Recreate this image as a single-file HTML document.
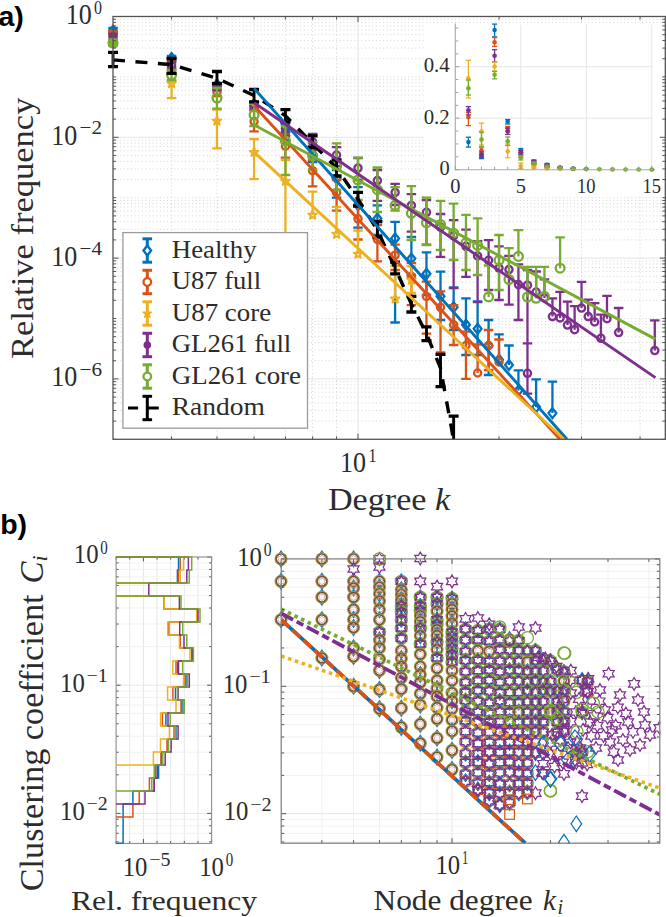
<!DOCTYPE html>
<html><head><meta charset="utf-8"><style>html,body{margin:0;padding:0;background:#fff;overflow:hidden}svg{display:block;}text{fill:#2c2c2c}text.lab{fill:#000}</style></head>
<body><svg width="666" height="917" viewBox="0 0 666 917">
<rect width="666" height="917" fill="#fff"/>
<line x1="113" y1="58.72" x2="665.3" y2="58.72" stroke="#cfcfcf" stroke-width="0.9" stroke-dasharray="1 2.6"/>
<line x1="113" y1="48.08" x2="665.3" y2="48.08" stroke="#cfcfcf" stroke-width="0.9" stroke-dasharray="1 2.6"/>
<line x1="113" y1="40.54" x2="665.3" y2="40.54" stroke="#cfcfcf" stroke-width="0.9" stroke-dasharray="1 2.6"/>
<line x1="113" y1="34.68" x2="665.3" y2="34.68" stroke="#cfcfcf" stroke-width="0.9" stroke-dasharray="1 2.6"/>
<line x1="113" y1="29.9" x2="665.3" y2="29.9" stroke="#cfcfcf" stroke-width="0.9" stroke-dasharray="1 2.6"/>
<line x1="113" y1="25.86" x2="665.3" y2="25.86" stroke="#cfcfcf" stroke-width="0.9" stroke-dasharray="1 2.6"/>
<line x1="113" y1="22.35" x2="665.3" y2="22.35" stroke="#cfcfcf" stroke-width="0.9" stroke-dasharray="1 2.6"/>
<line x1="113" y1="19.26" x2="665.3" y2="19.26" stroke="#cfcfcf" stroke-width="0.9" stroke-dasharray="1 2.6"/>
<line x1="113" y1="76.9" x2="665.3" y2="76.9" stroke="#cfcfcf" stroke-width="0.9" stroke-dasharray="1 2.6"/>
<line x1="113" y1="119.12" x2="665.3" y2="119.12" stroke="#cfcfcf" stroke-width="0.9" stroke-dasharray="1 2.6"/>
<line x1="113" y1="108.48" x2="665.3" y2="108.48" stroke="#cfcfcf" stroke-width="0.9" stroke-dasharray="1 2.6"/>
<line x1="113" y1="100.94" x2="665.3" y2="100.94" stroke="#cfcfcf" stroke-width="0.9" stroke-dasharray="1 2.6"/>
<line x1="113" y1="95.08" x2="665.3" y2="95.08" stroke="#cfcfcf" stroke-width="0.9" stroke-dasharray="1 2.6"/>
<line x1="113" y1="90.3" x2="665.3" y2="90.3" stroke="#cfcfcf" stroke-width="0.9" stroke-dasharray="1 2.6"/>
<line x1="113" y1="86.26" x2="665.3" y2="86.26" stroke="#cfcfcf" stroke-width="0.9" stroke-dasharray="1 2.6"/>
<line x1="113" y1="82.75" x2="665.3" y2="82.75" stroke="#cfcfcf" stroke-width="0.9" stroke-dasharray="1 2.6"/>
<line x1="113" y1="79.66" x2="665.3" y2="79.66" stroke="#cfcfcf" stroke-width="0.9" stroke-dasharray="1 2.6"/>
<line x1="113" y1="179.52" x2="665.3" y2="179.52" stroke="#cfcfcf" stroke-width="0.9" stroke-dasharray="1 2.6"/>
<line x1="113" y1="168.88" x2="665.3" y2="168.88" stroke="#cfcfcf" stroke-width="0.9" stroke-dasharray="1 2.6"/>
<line x1="113" y1="161.34" x2="665.3" y2="161.34" stroke="#cfcfcf" stroke-width="0.9" stroke-dasharray="1 2.6"/>
<line x1="113" y1="155.48" x2="665.3" y2="155.48" stroke="#cfcfcf" stroke-width="0.9" stroke-dasharray="1 2.6"/>
<line x1="113" y1="150.7" x2="665.3" y2="150.7" stroke="#cfcfcf" stroke-width="0.9" stroke-dasharray="1 2.6"/>
<line x1="113" y1="146.66" x2="665.3" y2="146.66" stroke="#cfcfcf" stroke-width="0.9" stroke-dasharray="1 2.6"/>
<line x1="113" y1="143.15" x2="665.3" y2="143.15" stroke="#cfcfcf" stroke-width="0.9" stroke-dasharray="1 2.6"/>
<line x1="113" y1="140.06" x2="665.3" y2="140.06" stroke="#cfcfcf" stroke-width="0.9" stroke-dasharray="1 2.6"/>
<line x1="113" y1="197.7" x2="665.3" y2="197.7" stroke="#cfcfcf" stroke-width="0.9" stroke-dasharray="1 2.6"/>
<line x1="113" y1="239.92" x2="665.3" y2="239.92" stroke="#cfcfcf" stroke-width="0.9" stroke-dasharray="1 2.6"/>
<line x1="113" y1="229.28" x2="665.3" y2="229.28" stroke="#cfcfcf" stroke-width="0.9" stroke-dasharray="1 2.6"/>
<line x1="113" y1="221.74" x2="665.3" y2="221.74" stroke="#cfcfcf" stroke-width="0.9" stroke-dasharray="1 2.6"/>
<line x1="113" y1="215.88" x2="665.3" y2="215.88" stroke="#cfcfcf" stroke-width="0.9" stroke-dasharray="1 2.6"/>
<line x1="113" y1="211.1" x2="665.3" y2="211.1" stroke="#cfcfcf" stroke-width="0.9" stroke-dasharray="1 2.6"/>
<line x1="113" y1="207.06" x2="665.3" y2="207.06" stroke="#cfcfcf" stroke-width="0.9" stroke-dasharray="1 2.6"/>
<line x1="113" y1="203.55" x2="665.3" y2="203.55" stroke="#cfcfcf" stroke-width="0.9" stroke-dasharray="1 2.6"/>
<line x1="113" y1="200.46" x2="665.3" y2="200.46" stroke="#cfcfcf" stroke-width="0.9" stroke-dasharray="1 2.6"/>
<line x1="113" y1="300.32" x2="665.3" y2="300.32" stroke="#cfcfcf" stroke-width="0.9" stroke-dasharray="1 2.6"/>
<line x1="113" y1="289.68" x2="665.3" y2="289.68" stroke="#cfcfcf" stroke-width="0.9" stroke-dasharray="1 2.6"/>
<line x1="113" y1="282.14" x2="665.3" y2="282.14" stroke="#cfcfcf" stroke-width="0.9" stroke-dasharray="1 2.6"/>
<line x1="113" y1="276.28" x2="665.3" y2="276.28" stroke="#cfcfcf" stroke-width="0.9" stroke-dasharray="1 2.6"/>
<line x1="113" y1="271.5" x2="665.3" y2="271.5" stroke="#cfcfcf" stroke-width="0.9" stroke-dasharray="1 2.6"/>
<line x1="113" y1="267.46" x2="665.3" y2="267.46" stroke="#cfcfcf" stroke-width="0.9" stroke-dasharray="1 2.6"/>
<line x1="113" y1="263.95" x2="665.3" y2="263.95" stroke="#cfcfcf" stroke-width="0.9" stroke-dasharray="1 2.6"/>
<line x1="113" y1="260.86" x2="665.3" y2="260.86" stroke="#cfcfcf" stroke-width="0.9" stroke-dasharray="1 2.6"/>
<line x1="113" y1="318.5" x2="665.3" y2="318.5" stroke="#cfcfcf" stroke-width="0.9" stroke-dasharray="1 2.6"/>
<line x1="113" y1="360.72" x2="665.3" y2="360.72" stroke="#cfcfcf" stroke-width="0.9" stroke-dasharray="1 2.6"/>
<line x1="113" y1="350.08" x2="665.3" y2="350.08" stroke="#cfcfcf" stroke-width="0.9" stroke-dasharray="1 2.6"/>
<line x1="113" y1="342.54" x2="665.3" y2="342.54" stroke="#cfcfcf" stroke-width="0.9" stroke-dasharray="1 2.6"/>
<line x1="113" y1="336.68" x2="665.3" y2="336.68" stroke="#cfcfcf" stroke-width="0.9" stroke-dasharray="1 2.6"/>
<line x1="113" y1="331.9" x2="665.3" y2="331.9" stroke="#cfcfcf" stroke-width="0.9" stroke-dasharray="1 2.6"/>
<line x1="113" y1="327.86" x2="665.3" y2="327.86" stroke="#cfcfcf" stroke-width="0.9" stroke-dasharray="1 2.6"/>
<line x1="113" y1="324.35" x2="665.3" y2="324.35" stroke="#cfcfcf" stroke-width="0.9" stroke-dasharray="1 2.6"/>
<line x1="113" y1="321.26" x2="665.3" y2="321.26" stroke="#cfcfcf" stroke-width="0.9" stroke-dasharray="1 2.6"/>
<line x1="113" y1="421.12" x2="665.3" y2="421.12" stroke="#cfcfcf" stroke-width="0.9" stroke-dasharray="1 2.6"/>
<line x1="113" y1="410.48" x2="665.3" y2="410.48" stroke="#cfcfcf" stroke-width="0.9" stroke-dasharray="1 2.6"/>
<line x1="113" y1="402.94" x2="665.3" y2="402.94" stroke="#cfcfcf" stroke-width="0.9" stroke-dasharray="1 2.6"/>
<line x1="113" y1="397.08" x2="665.3" y2="397.08" stroke="#cfcfcf" stroke-width="0.9" stroke-dasharray="1 2.6"/>
<line x1="113" y1="392.3" x2="665.3" y2="392.3" stroke="#cfcfcf" stroke-width="0.9" stroke-dasharray="1 2.6"/>
<line x1="113" y1="388.26" x2="665.3" y2="388.26" stroke="#cfcfcf" stroke-width="0.9" stroke-dasharray="1 2.6"/>
<line x1="113" y1="384.75" x2="665.3" y2="384.75" stroke="#cfcfcf" stroke-width="0.9" stroke-dasharray="1 2.6"/>
<line x1="113" y1="381.66" x2="665.3" y2="381.66" stroke="#cfcfcf" stroke-width="0.9" stroke-dasharray="1 2.6"/>
<line x1="113" y1="137.3" x2="665.3" y2="137.3" stroke="#e3e3e3" stroke-width="1"/>
<line x1="113" y1="258.1" x2="665.3" y2="258.1" stroke="#e3e3e3" stroke-width="1"/>
<line x1="113" y1="378.9" x2="665.3" y2="378.9" stroke="#e3e3e3" stroke-width="1"/>
<line x1="171.57" y1="16.5" x2="171.57" y2="439.3" stroke="#cfcfcf" stroke-width="0.9" stroke-dasharray="1 2.6"/>
<line x1="216.97" y1="16.5" x2="216.97" y2="439.3" stroke="#cfcfcf" stroke-width="0.9" stroke-dasharray="1 2.6"/>
<line x1="254.06" y1="16.5" x2="254.06" y2="439.3" stroke="#cfcfcf" stroke-width="0.9" stroke-dasharray="1 2.6"/>
<line x1="285.43" y1="16.5" x2="285.43" y2="439.3" stroke="#cfcfcf" stroke-width="0.9" stroke-dasharray="1 2.6"/>
<line x1="312.6" y1="16.5" x2="312.6" y2="439.3" stroke="#cfcfcf" stroke-width="0.9" stroke-dasharray="1 2.6"/>
<line x1="336.56" y1="16.5" x2="336.56" y2="439.3" stroke="#cfcfcf" stroke-width="0.9" stroke-dasharray="1 2.6"/>
<line x1="499.03" y1="16.5" x2="499.03" y2="439.3" stroke="#cfcfcf" stroke-width="0.9" stroke-dasharray="1 2.6"/>
<line x1="581.53" y1="16.5" x2="581.53" y2="439.3" stroke="#cfcfcf" stroke-width="0.9" stroke-dasharray="1 2.6"/>
<line x1="640.07" y1="16.5" x2="640.07" y2="439.3" stroke="#cfcfcf" stroke-width="0.9" stroke-dasharray="1 2.6"/>
<line x1="358" y1="16.5" x2="358" y2="439.3" stroke="#e3e3e3" stroke-width="1"/>
<defs><clipPath id="ca"><rect x="107" y="10.5" width="564.3" height="428.8"/></clipPath></defs>
<g clip-path="url(#ca)">
<line x1="113.03" y1="28" x2="113.03" y2="33" stroke="#0072BD" stroke-width="2.3"/>
<line x1="108.28" y1="28" x2="117.78" y2="28" stroke="#0072BD" stroke-width="2.3"/>
<line x1="108.28" y1="33" x2="117.78" y2="33" stroke="#0072BD" stroke-width="2.3"/>
<line x1="171.57" y1="56" x2="171.57" y2="61" stroke="#0072BD" stroke-width="2.3"/>
<line x1="166.82" y1="56" x2="176.32" y2="56" stroke="#0072BD" stroke-width="2.3"/>
<line x1="166.82" y1="61" x2="176.32" y2="61" stroke="#0072BD" stroke-width="2.3"/>
<line x1="216.97" y1="83" x2="216.97" y2="87" stroke="#0072BD" stroke-width="2.3"/>
<line x1="212.22" y1="83" x2="221.72" y2="83" stroke="#0072BD" stroke-width="2.3"/>
<line x1="212.22" y1="87" x2="221.72" y2="87" stroke="#0072BD" stroke-width="2.3"/>
<line x1="254.06" y1="103" x2="254.06" y2="110" stroke="#0072BD" stroke-width="2.3"/>
<line x1="249.31" y1="103" x2="258.81" y2="103" stroke="#0072BD" stroke-width="2.3"/>
<line x1="249.31" y1="110" x2="258.81" y2="110" stroke="#0072BD" stroke-width="2.3"/>
<line x1="285.43" y1="124" x2="285.43" y2="140" stroke="#0072BD" stroke-width="2.3"/>
<line x1="280.68" y1="124" x2="290.18" y2="124" stroke="#0072BD" stroke-width="2.3"/>
<line x1="280.68" y1="140" x2="290.18" y2="140" stroke="#0072BD" stroke-width="2.3"/>
<line x1="312.6" y1="146" x2="312.6" y2="162" stroke="#0072BD" stroke-width="2.3"/>
<line x1="307.85" y1="146" x2="317.35" y2="146" stroke="#0072BD" stroke-width="2.3"/>
<line x1="307.85" y1="162" x2="317.35" y2="162" stroke="#0072BD" stroke-width="2.3"/>
<line x1="336.56" y1="170" x2="336.56" y2="197.6" stroke="#0072BD" stroke-width="2.3"/>
<line x1="331.81" y1="170" x2="341.31" y2="170" stroke="#0072BD" stroke-width="2.3"/>
<line x1="331.81" y1="197.6" x2="341.31" y2="197.6" stroke="#0072BD" stroke-width="2.3"/>
<line x1="358" y1="187.1" x2="358" y2="227.7" stroke="#0072BD" stroke-width="2.3"/>
<line x1="353.25" y1="187.1" x2="362.75" y2="187.1" stroke="#0072BD" stroke-width="2.3"/>
<line x1="353.25" y1="227.7" x2="362.75" y2="227.7" stroke="#0072BD" stroke-width="2.3"/>
<line x1="377.39" y1="205.4" x2="377.39" y2="235" stroke="#0072BD" stroke-width="2.3"/>
<line x1="372.64" y1="205.4" x2="382.14" y2="205.4" stroke="#0072BD" stroke-width="2.3"/>
<line x1="372.64" y1="235" x2="382.14" y2="235" stroke="#0072BD" stroke-width="2.3"/>
<line x1="395.1" y1="221.8" x2="395.1" y2="322.5" stroke="#0072BD" stroke-width="2.3"/>
<line x1="390.35" y1="221.8" x2="399.85" y2="221.8" stroke="#0072BD" stroke-width="2.3"/>
<line x1="390.35" y1="322.5" x2="399.85" y2="322.5" stroke="#0072BD" stroke-width="2.3"/>
<line x1="411.38" y1="237" x2="411.38" y2="275" stroke="#0072BD" stroke-width="2.3"/>
<line x1="406.63" y1="237" x2="416.13" y2="237" stroke="#0072BD" stroke-width="2.3"/>
<line x1="406.63" y1="275" x2="416.13" y2="275" stroke="#0072BD" stroke-width="2.3"/>
<line x1="426.46" y1="252.4" x2="426.46" y2="295" stroke="#0072BD" stroke-width="2.3"/>
<line x1="421.71" y1="252.4" x2="431.21" y2="252.4" stroke="#0072BD" stroke-width="2.3"/>
<line x1="421.71" y1="295" x2="431.21" y2="295" stroke="#0072BD" stroke-width="2.3"/>
<line x1="440.5" y1="271.6" x2="440.5" y2="320" stroke="#0072BD" stroke-width="2.3"/>
<line x1="435.75" y1="271.6" x2="445.25" y2="271.6" stroke="#0072BD" stroke-width="2.3"/>
<line x1="435.75" y1="320" x2="445.25" y2="320" stroke="#0072BD" stroke-width="2.3"/>
<line x1="453.63" y1="287.5" x2="453.63" y2="330" stroke="#0072BD" stroke-width="2.3"/>
<line x1="448.88" y1="287.5" x2="458.38" y2="287.5" stroke="#0072BD" stroke-width="2.3"/>
<line x1="448.88" y1="330" x2="458.38" y2="330" stroke="#0072BD" stroke-width="2.3"/>
<line x1="465.97" y1="298.3" x2="465.97" y2="355" stroke="#0072BD" stroke-width="2.3"/>
<line x1="461.22" y1="298.3" x2="470.72" y2="298.3" stroke="#0072BD" stroke-width="2.3"/>
<line x1="461.22" y1="355" x2="470.72" y2="355" stroke="#0072BD" stroke-width="2.3"/>
<line x1="477.6" y1="301.3" x2="477.6" y2="355" stroke="#0072BD" stroke-width="2.3"/>
<line x1="472.85" y1="301.3" x2="482.35" y2="301.3" stroke="#0072BD" stroke-width="2.3"/>
<line x1="472.85" y1="355" x2="482.35" y2="355" stroke="#0072BD" stroke-width="2.3"/>
<line x1="488.6" y1="320" x2="488.6" y2="375" stroke="#0072BD" stroke-width="2.3"/>
<line x1="483.85" y1="320" x2="493.35" y2="320" stroke="#0072BD" stroke-width="2.3"/>
<line x1="483.85" y1="375" x2="493.35" y2="375" stroke="#0072BD" stroke-width="2.3"/>
<line x1="499.03" y1="334.3" x2="499.03" y2="359.8" stroke="#0072BD" stroke-width="2.3"/>
<line x1="494.28" y1="334.3" x2="503.78" y2="334.3" stroke="#0072BD" stroke-width="2.3"/>
<line x1="508.96" y1="345.5" x2="508.96" y2="365" stroke="#0072BD" stroke-width="2.3"/>
<line x1="504.21" y1="345.5" x2="513.71" y2="345.5" stroke="#0072BD" stroke-width="2.3"/>
<line x1="518.43" y1="370.3" x2="518.43" y2="390.6" stroke="#0072BD" stroke-width="2.3"/>
<line x1="513.68" y1="370.3" x2="523.18" y2="370.3" stroke="#0072BD" stroke-width="2.3"/>
<line x1="536.13" y1="379.3" x2="536.13" y2="407.1" stroke="#0072BD" stroke-width="2.3"/>
<line x1="531.38" y1="379.3" x2="540.88" y2="379.3" stroke="#0072BD" stroke-width="2.3"/>
<line x1="552.42" y1="381.6" x2="552.42" y2="413.1" stroke="#0072BD" stroke-width="2.3"/>
<line x1="547.67" y1="381.6" x2="557.17" y2="381.6" stroke="#0072BD" stroke-width="2.3"/>
<path d="M113.03 24L118.23 30.5L113.03 37L107.83 30.5Z" fill="#0072BD"/>
<path d="M171.57 53L175.47 58L171.57 63L167.67 58Z" fill="none" stroke="#0072BD" stroke-width="2.3"/>
<path d="M216.97 79.5L220.87 84.5L216.97 89.5L213.07 84.5Z" fill="none" stroke="#0072BD" stroke-width="2.3"/>
<path d="M254.06 101L257.96 106L254.06 111L250.16 106Z" fill="none" stroke="#0072BD" stroke-width="2.3"/>
<path d="M285.43 127.3L289.33 132.3L285.43 137.3L281.53 132.3Z" fill="none" stroke="#0072BD" stroke-width="2.3"/>
<path d="M312.6 149L316.5 154L312.6 159L308.7 154Z" fill="none" stroke="#0072BD" stroke-width="2.3"/>
<path d="M336.56 173.6L340.46 178.6L336.56 183.6L332.66 178.6Z" fill="none" stroke="#0072BD" stroke-width="2.3"/>
<path d="M358 200L361.9 205L358 210L354.1 205Z" fill="none" stroke="#0072BD" stroke-width="2.3"/>
<path d="M377.39 213.5L381.29 218.5L377.39 223.5L373.49 218.5Z" fill="none" stroke="#0072BD" stroke-width="2.3"/>
<path d="M395.1 233.4L399 238.4L395.1 243.4L391.2 238.4Z" fill="none" stroke="#0072BD" stroke-width="2.3"/>
<path d="M411.38 253.6L415.28 258.6L411.38 263.6L407.48 258.6Z" fill="none" stroke="#0072BD" stroke-width="2.3"/>
<path d="M426.46 268.8L430.36 273.8L426.46 278.8L422.56 273.8Z" fill="none" stroke="#0072BD" stroke-width="2.3"/>
<path d="M440.5 291.3L444.4 296.3L440.5 301.3L436.6 296.3Z" fill="none" stroke="#0072BD" stroke-width="2.3"/>
<path d="M453.63 302.2L457.53 307.2L453.63 312.2L449.73 307.2Z" fill="none" stroke="#0072BD" stroke-width="2.3"/>
<path d="M465.97 319.8L469.87 324.8L465.97 329.8L462.07 324.8Z" fill="none" stroke="#0072BD" stroke-width="2.3"/>
<path d="M477.6 323.8L481.5 328.8L477.6 333.8L473.7 328.8Z" fill="none" stroke="#0072BD" stroke-width="2.3"/>
<path d="M488.6 340.5L492.5 345.5L488.6 350.5L484.7 345.5Z" fill="none" stroke="#0072BD" stroke-width="2.3"/>
<path d="M499.03 354.8L502.93 359.8L499.03 364.8L495.13 359.8Z" fill="none" stroke="#0072BD" stroke-width="2.3"/>
<path d="M508.96 360L512.86 365L508.96 370L505.06 365Z" fill="none" stroke="#0072BD" stroke-width="2.3"/>
<path d="M518.43 385.6L522.33 390.6L518.43 395.6L514.53 390.6Z" fill="none" stroke="#0072BD" stroke-width="2.3"/>
<path d="M536.13 402.1L540.03 407.1L536.13 412.1L532.23 407.1Z" fill="none" stroke="#0072BD" stroke-width="2.3"/>
<path d="M552.42 408.1L556.32 413.1L552.42 418.1L548.52 413.1Z" fill="none" stroke="#0072BD" stroke-width="2.3"/>
<line x1="113.03" y1="31" x2="113.03" y2="36" stroke="#D95319" stroke-width="2.3"/>
<line x1="108.28" y1="31" x2="117.78" y2="31" stroke="#D95319" stroke-width="2.3"/>
<line x1="108.28" y1="36" x2="117.78" y2="36" stroke="#D95319" stroke-width="2.3"/>
<line x1="171.57" y1="60" x2="171.57" y2="68" stroke="#D95319" stroke-width="2.3"/>
<line x1="166.82" y1="60" x2="176.32" y2="60" stroke="#D95319" stroke-width="2.3"/>
<line x1="166.82" y1="68" x2="176.32" y2="68" stroke="#D95319" stroke-width="2.3"/>
<line x1="216.97" y1="88" x2="216.97" y2="96" stroke="#D95319" stroke-width="2.3"/>
<line x1="212.22" y1="88" x2="221.72" y2="88" stroke="#D95319" stroke-width="2.3"/>
<line x1="212.22" y1="96" x2="221.72" y2="96" stroke="#D95319" stroke-width="2.3"/>
<line x1="254.06" y1="110" x2="254.06" y2="131.3" stroke="#D95319" stroke-width="2.3"/>
<line x1="249.31" y1="110" x2="258.81" y2="110" stroke="#D95319" stroke-width="2.3"/>
<line x1="249.31" y1="131.3" x2="258.81" y2="131.3" stroke="#D95319" stroke-width="2.3"/>
<line x1="285.43" y1="135" x2="285.43" y2="157.6" stroke="#D95319" stroke-width="2.3"/>
<line x1="280.68" y1="135" x2="290.18" y2="135" stroke="#D95319" stroke-width="2.3"/>
<line x1="280.68" y1="157.6" x2="290.18" y2="157.6" stroke="#D95319" stroke-width="2.3"/>
<line x1="312.6" y1="160" x2="312.6" y2="186.4" stroke="#D95319" stroke-width="2.3"/>
<line x1="307.85" y1="160" x2="317.35" y2="160" stroke="#D95319" stroke-width="2.3"/>
<line x1="307.85" y1="186.4" x2="317.35" y2="186.4" stroke="#D95319" stroke-width="2.3"/>
<line x1="336.56" y1="180" x2="336.56" y2="210.7" stroke="#D95319" stroke-width="2.3"/>
<line x1="331.81" y1="180" x2="341.31" y2="180" stroke="#D95319" stroke-width="2.3"/>
<line x1="331.81" y1="210.7" x2="341.31" y2="210.7" stroke="#D95319" stroke-width="2.3"/>
<line x1="358" y1="205" x2="358" y2="239.5" stroke="#D95319" stroke-width="2.3"/>
<line x1="353.25" y1="205" x2="362.75" y2="205" stroke="#D95319" stroke-width="2.3"/>
<line x1="353.25" y1="239.5" x2="362.75" y2="239.5" stroke="#D95319" stroke-width="2.3"/>
<line x1="377.39" y1="225" x2="377.39" y2="261.3" stroke="#D95319" stroke-width="2.3"/>
<line x1="372.64" y1="225" x2="382.14" y2="225" stroke="#D95319" stroke-width="2.3"/>
<line x1="372.64" y1="261.3" x2="382.14" y2="261.3" stroke="#D95319" stroke-width="2.3"/>
<line x1="395.1" y1="244.7" x2="395.1" y2="270" stroke="#D95319" stroke-width="2.3"/>
<line x1="390.35" y1="244.7" x2="399.85" y2="244.7" stroke="#D95319" stroke-width="2.3"/>
<line x1="390.35" y1="270" x2="399.85" y2="270" stroke="#D95319" stroke-width="2.3"/>
<line x1="411.38" y1="263" x2="411.38" y2="305.2" stroke="#D95319" stroke-width="2.3"/>
<line x1="406.63" y1="263" x2="416.13" y2="263" stroke="#D95319" stroke-width="2.3"/>
<line x1="406.63" y1="305.2" x2="416.13" y2="305.2" stroke="#D95319" stroke-width="2.3"/>
<line x1="426.46" y1="281.6" x2="426.46" y2="333.7" stroke="#D95319" stroke-width="2.3"/>
<line x1="421.71" y1="281.6" x2="431.21" y2="281.6" stroke="#D95319" stroke-width="2.3"/>
<line x1="421.71" y1="333.7" x2="431.21" y2="333.7" stroke="#D95319" stroke-width="2.3"/>
<line x1="440.5" y1="291.4" x2="440.5" y2="352.3" stroke="#D95319" stroke-width="2.3"/>
<line x1="435.75" y1="291.4" x2="445.25" y2="291.4" stroke="#D95319" stroke-width="2.3"/>
<line x1="435.75" y1="352.3" x2="445.25" y2="352.3" stroke="#D95319" stroke-width="2.3"/>
<line x1="453.63" y1="305.2" x2="453.63" y2="345" stroke="#D95319" stroke-width="2.3"/>
<line x1="448.88" y1="305.2" x2="458.38" y2="305.2" stroke="#D95319" stroke-width="2.3"/>
<line x1="448.88" y1="345" x2="458.38" y2="345" stroke="#D95319" stroke-width="2.3"/>
<line x1="465.97" y1="331.7" x2="465.97" y2="378.9" stroke="#D95319" stroke-width="2.3"/>
<line x1="461.22" y1="331.7" x2="470.72" y2="331.7" stroke="#D95319" stroke-width="2.3"/>
<line x1="461.22" y1="378.9" x2="470.72" y2="378.9" stroke="#D95319" stroke-width="2.3"/>
<line x1="477.6" y1="344.5" x2="477.6" y2="373" stroke="#D95319" stroke-width="2.3"/>
<line x1="472.85" y1="344.5" x2="482.35" y2="344.5" stroke="#D95319" stroke-width="2.3"/>
<line x1="488.6" y1="330" x2="488.6" y2="370" stroke="#D95319" stroke-width="2.3"/>
<line x1="483.85" y1="330" x2="493.35" y2="330" stroke="#D95319" stroke-width="2.3"/>
<line x1="483.85" y1="370" x2="493.35" y2="370" stroke="#D95319" stroke-width="2.3"/>
<line x1="499.03" y1="339.5" x2="499.03" y2="362" stroke="#D95319" stroke-width="2.3"/>
<line x1="494.28" y1="339.5" x2="503.78" y2="339.5" stroke="#D95319" stroke-width="2.3"/>
<circle cx="113.03" cy="33.5" r="4.6" fill="#D95319"/>
<circle cx="171.57" cy="64" r="3.6" fill="none" stroke="#D95319" stroke-width="2.3"/>
<circle cx="216.97" cy="92" r="3.6" fill="none" stroke="#D95319" stroke-width="2.3"/>
<circle cx="254.06" cy="121.5" r="3.6" fill="none" stroke="#D95319" stroke-width="2.3"/>
<circle cx="285.43" cy="146.2" r="3.6" fill="none" stroke="#D95319" stroke-width="2.3"/>
<circle cx="312.6" cy="170.7" r="3.6" fill="none" stroke="#D95319" stroke-width="2.3"/>
<circle cx="336.56" cy="192.4" r="3.6" fill="none" stroke="#D95319" stroke-width="2.3"/>
<circle cx="358" cy="218.8" r="3.6" fill="none" stroke="#D95319" stroke-width="2.3"/>
<circle cx="377.39" cy="239.5" r="3.6" fill="none" stroke="#D95319" stroke-width="2.3"/>
<circle cx="395.1" cy="255.2" r="3.6" fill="none" stroke="#D95319" stroke-width="2.3"/>
<circle cx="411.38" cy="276.4" r="3.6" fill="none" stroke="#D95319" stroke-width="2.3"/>
<circle cx="426.46" cy="296.5" r="3.6" fill="none" stroke="#D95319" stroke-width="2.3"/>
<circle cx="440.5" cy="307.3" r="3.6" fill="none" stroke="#D95319" stroke-width="2.3"/>
<circle cx="453.63" cy="324.8" r="3.6" fill="none" stroke="#D95319" stroke-width="2.3"/>
<circle cx="465.97" cy="345.5" r="3.6" fill="none" stroke="#D95319" stroke-width="2.3"/>
<circle cx="477.6" cy="373" r="3.6" fill="none" stroke="#D95319" stroke-width="2.3"/>
<circle cx="488.6" cy="345.5" r="3.6" fill="none" stroke="#D95319" stroke-width="2.3"/>
<circle cx="499.03" cy="362" r="3.6" fill="none" stroke="#D95319" stroke-width="2.3"/>
<line x1="113.03" y1="37" x2="113.03" y2="43" stroke="#EDB120" stroke-width="2.3"/>
<line x1="108.28" y1="37" x2="117.78" y2="37" stroke="#EDB120" stroke-width="2.3"/>
<line x1="108.28" y1="43" x2="117.78" y2="43" stroke="#EDB120" stroke-width="2.3"/>
<line x1="171.57" y1="80.8" x2="171.57" y2="98.1" stroke="#EDB120" stroke-width="2.3"/>
<line x1="166.82" y1="80.8" x2="176.32" y2="80.8" stroke="#EDB120" stroke-width="2.3"/>
<line x1="166.82" y1="98.1" x2="176.32" y2="98.1" stroke="#EDB120" stroke-width="2.3"/>
<line x1="216.97" y1="109.7" x2="216.97" y2="148.4" stroke="#EDB120" stroke-width="2.3"/>
<line x1="212.22" y1="109.7" x2="221.72" y2="109.7" stroke="#EDB120" stroke-width="2.3"/>
<line x1="212.22" y1="148.4" x2="221.72" y2="148.4" stroke="#EDB120" stroke-width="2.3"/>
<line x1="254.06" y1="139.2" x2="254.06" y2="179.1" stroke="#EDB120" stroke-width="2.3"/>
<line x1="249.31" y1="139.2" x2="258.81" y2="139.2" stroke="#EDB120" stroke-width="2.3"/>
<line x1="249.31" y1="179.1" x2="258.81" y2="179.1" stroke="#EDB120" stroke-width="2.3"/>
<line x1="285.43" y1="160" x2="285.43" y2="400" stroke="#EDB120" stroke-width="2.3"/>
<line x1="280.68" y1="160" x2="290.18" y2="160" stroke="#EDB120" stroke-width="2.3"/>
<line x1="280.68" y1="400" x2="290.18" y2="400" stroke="#EDB120" stroke-width="2.3"/>
<line x1="312.6" y1="191.6" x2="312.6" y2="215" stroke="#EDB120" stroke-width="2.3"/>
<line x1="307.85" y1="191.6" x2="317.35" y2="191.6" stroke="#EDB120" stroke-width="2.3"/>
<line x1="336.56" y1="206.8" x2="336.56" y2="234.2" stroke="#EDB120" stroke-width="2.3"/>
<line x1="331.81" y1="206.8" x2="341.31" y2="206.8" stroke="#EDB120" stroke-width="2.3"/>
<line x1="358" y1="230.6" x2="358" y2="254" stroke="#EDB120" stroke-width="2.3"/>
<line x1="353.25" y1="230.6" x2="362.75" y2="230.6" stroke="#EDB120" stroke-width="2.3"/>
<line x1="395.1" y1="265.8" x2="395.1" y2="298.9" stroke="#EDB120" stroke-width="2.3"/>
<line x1="390.35" y1="265.8" x2="399.85" y2="265.8" stroke="#EDB120" stroke-width="2.3"/>
<line x1="411.38" y1="266.4" x2="411.38" y2="293" stroke="#EDB120" stroke-width="2.3"/>
<line x1="406.63" y1="266.4" x2="416.13" y2="266.4" stroke="#EDB120" stroke-width="2.3"/>
<line x1="406.63" y1="293" x2="416.13" y2="293" stroke="#EDB120" stroke-width="2.3"/>
<circle cx="113.03" cy="40" r="4.2" fill="#EDB120"/>
<path d="M171.57 78.9 L172.7 81.94 L175.94 82.08 L173.4 84.1 L174.27 87.22 L171.57 85.43 L168.86 87.22 L169.73 84.1 L167.19 82.08 L170.43 81.94Z" fill="none" stroke="#EDB120" stroke-width="1.9" stroke-linejoin="round"/>
<path d="M216.97 116.4 L218.1 119.44 L221.34 119.58 L218.8 121.6 L219.67 124.72 L216.97 122.93 L214.26 124.72 L215.13 121.6 L212.59 119.58 L215.83 119.44Z" fill="none" stroke="#EDB120" stroke-width="1.9" stroke-linejoin="round"/>
<path d="M254.06 147.7 L255.2 150.74 L258.44 150.88 L255.9 152.9 L256.77 156.02 L254.06 154.23 L251.36 156.02 L252.23 152.9 L249.69 150.88 L252.93 150.74Z" fill="none" stroke="#EDB120" stroke-width="1.9" stroke-linejoin="round"/>
<path d="M285.43 176.6 L286.56 179.64 L289.8 179.78 L287.27 181.8 L288.13 184.92 L285.43 183.13 L282.72 184.92 L283.59 181.8 L281.05 179.78 L284.29 179.64Z" fill="none" stroke="#EDB120" stroke-width="1.9" stroke-linejoin="round"/>
<path d="M312.6 210.4 L313.73 213.44 L316.97 213.58 L314.44 215.6 L315.3 218.72 L312.6 216.93 L309.89 218.72 L310.76 215.6 L308.22 213.58 L311.46 213.44Z" fill="none" stroke="#EDB120" stroke-width="1.9" stroke-linejoin="round"/>
<path d="M336.56 229.6 L337.7 232.64 L340.94 232.78 L338.4 234.8 L339.27 237.92 L336.56 236.13 L333.86 237.92 L334.73 234.8 L332.19 232.78 L335.43 232.64Z" fill="none" stroke="#EDB120" stroke-width="1.9" stroke-linejoin="round"/>
<path d="M358 249.4 L359.14 252.44 L362.37 252.58 L359.84 254.6 L360.7 257.72 L358 255.93 L355.3 257.72 L356.16 254.6 L353.63 252.58 L356.86 252.44Z" fill="none" stroke="#EDB120" stroke-width="1.9" stroke-linejoin="round"/>
<path d="M395.1 294.3 L396.23 297.34 L399.47 297.48 L396.93 299.5 L397.8 302.62 L395.1 300.83 L392.39 302.62 L393.26 299.5 L390.72 297.48 L393.96 297.34Z" fill="none" stroke="#EDB120" stroke-width="1.9" stroke-linejoin="round"/>
<path d="M411.38 275.4 L412.52 278.44 L415.76 278.58 L413.22 280.6 L414.09 283.72 L411.38 281.93 L408.68 283.72 L409.55 280.6 L407.01 278.58 L410.25 278.44Z" fill="none" stroke="#EDB120" stroke-width="1.9" stroke-linejoin="round"/>
<line x1="113.03" y1="34" x2="113.03" y2="40" stroke="#7E2F8E" stroke-width="2.3"/>
<line x1="108.28" y1="34" x2="117.78" y2="34" stroke="#7E2F8E" stroke-width="2.3"/>
<line x1="108.28" y1="40" x2="117.78" y2="40" stroke="#7E2F8E" stroke-width="2.3"/>
<line x1="171.57" y1="62" x2="171.57" y2="70" stroke="#7E2F8E" stroke-width="2.3"/>
<line x1="166.82" y1="62" x2="176.32" y2="62" stroke="#7E2F8E" stroke-width="2.3"/>
<line x1="166.82" y1="70" x2="176.32" y2="70" stroke="#7E2F8E" stroke-width="2.3"/>
<line x1="216.97" y1="85" x2="216.97" y2="90" stroke="#7E2F8E" stroke-width="2.3"/>
<line x1="212.22" y1="85" x2="221.72" y2="85" stroke="#7E2F8E" stroke-width="2.3"/>
<line x1="212.22" y1="90" x2="221.72" y2="90" stroke="#7E2F8E" stroke-width="2.3"/>
<line x1="254.06" y1="102" x2="254.06" y2="108" stroke="#7E2F8E" stroke-width="2.3"/>
<line x1="249.31" y1="102" x2="258.81" y2="102" stroke="#7E2F8E" stroke-width="2.3"/>
<line x1="249.31" y1="108" x2="258.81" y2="108" stroke="#7E2F8E" stroke-width="2.3"/>
<line x1="285.43" y1="122" x2="285.43" y2="136" stroke="#7E2F8E" stroke-width="2.3"/>
<line x1="280.68" y1="122" x2="290.18" y2="122" stroke="#7E2F8E" stroke-width="2.3"/>
<line x1="280.68" y1="136" x2="290.18" y2="136" stroke="#7E2F8E" stroke-width="2.3"/>
<line x1="312.6" y1="134" x2="312.6" y2="150" stroke="#7E2F8E" stroke-width="2.3"/>
<line x1="307.85" y1="134" x2="317.35" y2="134" stroke="#7E2F8E" stroke-width="2.3"/>
<line x1="307.85" y1="150" x2="317.35" y2="150" stroke="#7E2F8E" stroke-width="2.3"/>
<line x1="336.56" y1="147.2" x2="336.56" y2="166" stroke="#7E2F8E" stroke-width="2.3"/>
<line x1="331.81" y1="147.2" x2="341.31" y2="147.2" stroke="#7E2F8E" stroke-width="2.3"/>
<line x1="331.81" y1="166" x2="341.31" y2="166" stroke="#7E2F8E" stroke-width="2.3"/>
<line x1="358" y1="158" x2="358" y2="180" stroke="#7E2F8E" stroke-width="2.3"/>
<line x1="353.25" y1="158" x2="362.75" y2="158" stroke="#7E2F8E" stroke-width="2.3"/>
<line x1="353.25" y1="180" x2="362.75" y2="180" stroke="#7E2F8E" stroke-width="2.3"/>
<line x1="377.39" y1="170" x2="377.39" y2="200.9" stroke="#7E2F8E" stroke-width="2.3"/>
<line x1="372.64" y1="170" x2="382.14" y2="170" stroke="#7E2F8E" stroke-width="2.3"/>
<line x1="372.64" y1="200.9" x2="382.14" y2="200.9" stroke="#7E2F8E" stroke-width="2.3"/>
<line x1="395.1" y1="183.8" x2="395.1" y2="205" stroke="#7E2F8E" stroke-width="2.3"/>
<line x1="390.35" y1="183.8" x2="399.85" y2="183.8" stroke="#7E2F8E" stroke-width="2.3"/>
<line x1="390.35" y1="205" x2="399.85" y2="205" stroke="#7E2F8E" stroke-width="2.3"/>
<line x1="411.38" y1="194.1" x2="411.38" y2="231.6" stroke="#7E2F8E" stroke-width="2.3"/>
<line x1="406.63" y1="194.1" x2="416.13" y2="194.1" stroke="#7E2F8E" stroke-width="2.3"/>
<line x1="406.63" y1="231.6" x2="416.13" y2="231.6" stroke="#7E2F8E" stroke-width="2.3"/>
<line x1="426.46" y1="200" x2="426.46" y2="244.6" stroke="#7E2F8E" stroke-width="2.3"/>
<line x1="421.71" y1="200" x2="431.21" y2="200" stroke="#7E2F8E" stroke-width="2.3"/>
<line x1="421.71" y1="244.6" x2="431.21" y2="244.6" stroke="#7E2F8E" stroke-width="2.3"/>
<line x1="440.5" y1="214" x2="440.5" y2="256.8" stroke="#7E2F8E" stroke-width="2.3"/>
<line x1="435.75" y1="214" x2="445.25" y2="214" stroke="#7E2F8E" stroke-width="2.3"/>
<line x1="435.75" y1="256.8" x2="445.25" y2="256.8" stroke="#7E2F8E" stroke-width="2.3"/>
<line x1="453.63" y1="220.1" x2="453.63" y2="288.2" stroke="#7E2F8E" stroke-width="2.3"/>
<line x1="448.88" y1="220.1" x2="458.38" y2="220.1" stroke="#7E2F8E" stroke-width="2.3"/>
<line x1="448.88" y1="288.2" x2="458.38" y2="288.2" stroke="#7E2F8E" stroke-width="2.3"/>
<line x1="465.97" y1="229.7" x2="465.97" y2="276.9" stroke="#7E2F8E" stroke-width="2.3"/>
<line x1="461.22" y1="229.7" x2="470.72" y2="229.7" stroke="#7E2F8E" stroke-width="2.3"/>
<line x1="461.22" y1="276.9" x2="470.72" y2="276.9" stroke="#7E2F8E" stroke-width="2.3"/>
<line x1="477.6" y1="241.1" x2="477.6" y2="302.2" stroke="#7E2F8E" stroke-width="2.3"/>
<line x1="472.85" y1="241.1" x2="482.35" y2="241.1" stroke="#7E2F8E" stroke-width="2.3"/>
<line x1="472.85" y1="302.2" x2="482.35" y2="302.2" stroke="#7E2F8E" stroke-width="2.3"/>
<line x1="488.6" y1="240.2" x2="488.6" y2="290" stroke="#7E2F8E" stroke-width="2.3"/>
<line x1="483.85" y1="240.2" x2="493.35" y2="240.2" stroke="#7E2F8E" stroke-width="2.3"/>
<line x1="483.85" y1="290" x2="493.35" y2="290" stroke="#7E2F8E" stroke-width="2.3"/>
<line x1="499.03" y1="246.3" x2="499.03" y2="300" stroke="#7E2F8E" stroke-width="2.3"/>
<line x1="494.28" y1="246.3" x2="503.78" y2="246.3" stroke="#7E2F8E" stroke-width="2.3"/>
<line x1="494.28" y1="300" x2="503.78" y2="300" stroke="#7E2F8E" stroke-width="2.3"/>
<line x1="508.96" y1="255.9" x2="508.96" y2="304.7" stroke="#7E2F8E" stroke-width="2.3"/>
<line x1="504.21" y1="255.9" x2="513.71" y2="255.9" stroke="#7E2F8E" stroke-width="2.3"/>
<line x1="504.21" y1="304.7" x2="513.71" y2="304.7" stroke="#7E2F8E" stroke-width="2.3"/>
<line x1="518.43" y1="264.3" x2="518.43" y2="320" stroke="#7E2F8E" stroke-width="2.3"/>
<line x1="513.68" y1="264.3" x2="523.18" y2="264.3" stroke="#7E2F8E" stroke-width="2.3"/>
<line x1="513.68" y1="320" x2="523.18" y2="320" stroke="#7E2F8E" stroke-width="2.3"/>
<line x1="527.47" y1="270" x2="527.47" y2="393.6" stroke="#7E2F8E" stroke-width="2.3"/>
<line x1="522.72" y1="270" x2="532.22" y2="270" stroke="#7E2F8E" stroke-width="2.3"/>
<line x1="522.72" y1="393.6" x2="532.22" y2="393.6" stroke="#7E2F8E" stroke-width="2.3"/>
<line x1="536.13" y1="271.5" x2="536.13" y2="292" stroke="#7E2F8E" stroke-width="2.3"/>
<line x1="531.38" y1="271.5" x2="540.88" y2="271.5" stroke="#7E2F8E" stroke-width="2.3"/>
<line x1="544.43" y1="279.3" x2="544.43" y2="298" stroke="#7E2F8E" stroke-width="2.3"/>
<line x1="539.68" y1="279.3" x2="549.18" y2="279.3" stroke="#7E2F8E" stroke-width="2.3"/>
<line x1="552.42" y1="298.3" x2="552.42" y2="316.6" stroke="#7E2F8E" stroke-width="2.3"/>
<line x1="547.67" y1="298.3" x2="557.17" y2="298.3" stroke="#7E2F8E" stroke-width="2.3"/>
<line x1="560.09" y1="291.8" x2="560.09" y2="317.9" stroke="#7E2F8E" stroke-width="2.3"/>
<line x1="555.34" y1="291.8" x2="564.84" y2="291.8" stroke="#7E2F8E" stroke-width="2.3"/>
<line x1="567.49" y1="301.6" x2="567.49" y2="325.1" stroke="#7E2F8E" stroke-width="2.3"/>
<line x1="562.74" y1="301.6" x2="572.24" y2="301.6" stroke="#7E2F8E" stroke-width="2.3"/>
<line x1="574.63" y1="306.2" x2="574.63" y2="329.7" stroke="#7E2F8E" stroke-width="2.3"/>
<line x1="569.88" y1="306.2" x2="579.38" y2="306.2" stroke="#7E2F8E" stroke-width="2.3"/>
<line x1="581.53" y1="281.9" x2="581.53" y2="308.1" stroke="#7E2F8E" stroke-width="2.3"/>
<line x1="576.78" y1="281.9" x2="586.28" y2="281.9" stroke="#7E2F8E" stroke-width="2.3"/>
<line x1="588.2" y1="299.6" x2="588.2" y2="316.6" stroke="#7E2F8E" stroke-width="2.3"/>
<line x1="583.45" y1="299.6" x2="592.95" y2="299.6" stroke="#7E2F8E" stroke-width="2.3"/>
<line x1="594.66" y1="303.1" x2="594.66" y2="322" stroke="#7E2F8E" stroke-width="2.3"/>
<line x1="589.91" y1="303.1" x2="599.41" y2="303.1" stroke="#7E2F8E" stroke-width="2.3"/>
<line x1="600.92" y1="314.6" x2="600.92" y2="338.3" stroke="#7E2F8E" stroke-width="2.3"/>
<line x1="596.17" y1="314.6" x2="605.67" y2="314.6" stroke="#7E2F8E" stroke-width="2.3"/>
<line x1="607" y1="295.8" x2="607" y2="318.7" stroke="#7E2F8E" stroke-width="2.3"/>
<line x1="602.25" y1="295.8" x2="611.75" y2="295.8" stroke="#7E2F8E" stroke-width="2.3"/>
<line x1="618.63" y1="308" x2="618.63" y2="332.6" stroke="#7E2F8E" stroke-width="2.3"/>
<line x1="613.88" y1="308" x2="623.38" y2="308" stroke="#7E2F8E" stroke-width="2.3"/>
<line x1="654.78" y1="320.3" x2="654.78" y2="350.6" stroke="#7E2F8E" stroke-width="2.3"/>
<line x1="650.03" y1="320.3" x2="659.53" y2="320.3" stroke="#7E2F8E" stroke-width="2.3"/>
<circle cx="113.03" cy="36.9" r="4.6" fill="#7E2F8E"/>
<circle cx="171.57" cy="66" r="3.6" fill="none" stroke="#7E2F8E" stroke-width="2.3"/>
<circle cx="216.97" cy="87.5" r="3.6" fill="none" stroke="#7E2F8E" stroke-width="2.3"/>
<circle cx="254.06" cy="104" r="3.6" fill="none" stroke="#7E2F8E" stroke-width="2.3"/>
<circle cx="285.43" cy="128.8" r="3.6" fill="none" stroke="#7E2F8E" stroke-width="2.3"/>
<circle cx="312.6" cy="141.9" r="3.6" fill="none" stroke="#7E2F8E" stroke-width="2.3"/>
<circle cx="336.56" cy="155" r="3.6" fill="none" stroke="#7E2F8E" stroke-width="2.3"/>
<circle cx="358" cy="168.1" r="3.6" fill="none" stroke="#7E2F8E" stroke-width="2.3"/>
<circle cx="377.39" cy="180.6" r="3.6" fill="none" stroke="#7E2F8E" stroke-width="2.3"/>
<circle cx="395.1" cy="192.4" r="3.6" fill="none" stroke="#7E2F8E" stroke-width="2.3"/>
<circle cx="411.38" cy="205.4" r="3.6" fill="none" stroke="#7E2F8E" stroke-width="2.3"/>
<circle cx="426.46" cy="212.3" r="3.6" fill="none" stroke="#7E2F8E" stroke-width="2.3"/>
<circle cx="440.5" cy="227.1" r="3.6" fill="none" stroke="#7E2F8E" stroke-width="2.3"/>
<circle cx="453.63" cy="235.8" r="3.6" fill="none" stroke="#7E2F8E" stroke-width="2.3"/>
<circle cx="465.97" cy="246.3" r="3.6" fill="none" stroke="#7E2F8E" stroke-width="2.3"/>
<circle cx="477.6" cy="255.9" r="3.6" fill="none" stroke="#7E2F8E" stroke-width="2.3"/>
<circle cx="488.6" cy="260.3" r="3.6" fill="none" stroke="#7E2F8E" stroke-width="2.3"/>
<circle cx="499.03" cy="268.1" r="3.6" fill="none" stroke="#7E2F8E" stroke-width="2.3"/>
<circle cx="508.96" cy="269.6" r="3.6" fill="none" stroke="#7E2F8E" stroke-width="2.3"/>
<circle cx="518.43" cy="284.6" r="3.6" fill="none" stroke="#7E2F8E" stroke-width="2.3"/>
<circle cx="527.47" cy="285.2" r="3.6" fill="none" stroke="#7E2F8E" stroke-width="2.3"/>
<circle cx="536.13" cy="292" r="3.6" fill="none" stroke="#7E2F8E" stroke-width="2.3"/>
<circle cx="544.43" cy="298" r="3.6" fill="none" stroke="#7E2F8E" stroke-width="2.3"/>
<circle cx="552.42" cy="316.6" r="3.6" fill="none" stroke="#7E2F8E" stroke-width="2.3"/>
<circle cx="560.09" cy="317.9" r="3.6" fill="none" stroke="#7E2F8E" stroke-width="2.3"/>
<circle cx="567.49" cy="325.1" r="3.6" fill="none" stroke="#7E2F8E" stroke-width="2.3"/>
<circle cx="574.63" cy="329.7" r="3.6" fill="none" stroke="#7E2F8E" stroke-width="2.3"/>
<circle cx="581.53" cy="308.1" r="3.6" fill="none" stroke="#7E2F8E" stroke-width="2.3"/>
<circle cx="588.2" cy="316.6" r="3.6" fill="none" stroke="#7E2F8E" stroke-width="2.3"/>
<circle cx="594.66" cy="322" r="3.6" fill="none" stroke="#7E2F8E" stroke-width="2.3"/>
<circle cx="600.92" cy="338.3" r="3.6" fill="none" stroke="#7E2F8E" stroke-width="2.3"/>
<circle cx="607" cy="318.7" r="3.6" fill="none" stroke="#7E2F8E" stroke-width="2.3"/>
<circle cx="618.63" cy="332.6" r="3.6" fill="none" stroke="#7E2F8E" stroke-width="2.3"/>
<circle cx="654.78" cy="350.6" r="3.6" fill="none" stroke="#7E2F8E" stroke-width="2.3"/>
<line x1="113.03" y1="40" x2="113.03" y2="46" stroke="#77AC30" stroke-width="2.3"/>
<line x1="108.28" y1="40" x2="117.78" y2="40" stroke="#77AC30" stroke-width="2.3"/>
<line x1="108.28" y1="46" x2="117.78" y2="46" stroke="#77AC30" stroke-width="2.3"/>
<line x1="171.57" y1="70" x2="171.57" y2="80" stroke="#77AC30" stroke-width="2.3"/>
<line x1="166.82" y1="70" x2="176.32" y2="70" stroke="#77AC30" stroke-width="2.3"/>
<line x1="166.82" y1="80" x2="176.32" y2="80" stroke="#77AC30" stroke-width="2.3"/>
<line x1="216.97" y1="88" x2="216.97" y2="108.7" stroke="#77AC30" stroke-width="2.3"/>
<line x1="212.22" y1="88" x2="221.72" y2="88" stroke="#77AC30" stroke-width="2.3"/>
<line x1="212.22" y1="108.7" x2="221.72" y2="108.7" stroke="#77AC30" stroke-width="2.3"/>
<line x1="254.06" y1="104" x2="254.06" y2="126" stroke="#77AC30" stroke-width="2.3"/>
<line x1="249.31" y1="104" x2="258.81" y2="104" stroke="#77AC30" stroke-width="2.3"/>
<line x1="249.31" y1="126" x2="258.81" y2="126" stroke="#77AC30" stroke-width="2.3"/>
<line x1="285.43" y1="126.2" x2="285.43" y2="175" stroke="#77AC30" stroke-width="2.3"/>
<line x1="280.68" y1="126.2" x2="290.18" y2="126.2" stroke="#77AC30" stroke-width="2.3"/>
<line x1="280.68" y1="175" x2="290.18" y2="175" stroke="#77AC30" stroke-width="2.3"/>
<line x1="312.6" y1="142" x2="312.6" y2="170" stroke="#77AC30" stroke-width="2.3"/>
<line x1="307.85" y1="142" x2="317.35" y2="142" stroke="#77AC30" stroke-width="2.3"/>
<line x1="307.85" y1="170" x2="317.35" y2="170" stroke="#77AC30" stroke-width="2.3"/>
<line x1="336.56" y1="143.3" x2="336.56" y2="190" stroke="#77AC30" stroke-width="2.3"/>
<line x1="331.81" y1="143.3" x2="341.31" y2="143.3" stroke="#77AC30" stroke-width="2.3"/>
<line x1="331.81" y1="190" x2="341.31" y2="190" stroke="#77AC30" stroke-width="2.3"/>
<line x1="358" y1="157.7" x2="358" y2="200" stroke="#77AC30" stroke-width="2.3"/>
<line x1="353.25" y1="157.7" x2="362.75" y2="157.7" stroke="#77AC30" stroke-width="2.3"/>
<line x1="353.25" y1="200" x2="362.75" y2="200" stroke="#77AC30" stroke-width="2.3"/>
<line x1="377.39" y1="167.5" x2="377.39" y2="212" stroke="#77AC30" stroke-width="2.3"/>
<line x1="372.64" y1="167.5" x2="382.14" y2="167.5" stroke="#77AC30" stroke-width="2.3"/>
<line x1="372.64" y1="212" x2="382.14" y2="212" stroke="#77AC30" stroke-width="2.3"/>
<line x1="395.1" y1="187.1" x2="395.1" y2="210.7" stroke="#77AC30" stroke-width="2.3"/>
<line x1="390.35" y1="187.1" x2="399.85" y2="187.1" stroke="#77AC30" stroke-width="2.3"/>
<line x1="390.35" y1="210.7" x2="399.85" y2="210.7" stroke="#77AC30" stroke-width="2.3"/>
<line x1="411.38" y1="186.2" x2="411.38" y2="240" stroke="#77AC30" stroke-width="2.3"/>
<line x1="406.63" y1="186.2" x2="416.13" y2="186.2" stroke="#77AC30" stroke-width="2.3"/>
<line x1="406.63" y1="240" x2="416.13" y2="240" stroke="#77AC30" stroke-width="2.3"/>
<line x1="426.46" y1="197.5" x2="426.46" y2="245" stroke="#77AC30" stroke-width="2.3"/>
<line x1="421.71" y1="197.5" x2="431.21" y2="197.5" stroke="#77AC30" stroke-width="2.3"/>
<line x1="421.71" y1="245" x2="431.21" y2="245" stroke="#77AC30" stroke-width="2.3"/>
<line x1="440.5" y1="200.9" x2="440.5" y2="250" stroke="#77AC30" stroke-width="2.3"/>
<line x1="435.75" y1="200.9" x2="445.25" y2="200.9" stroke="#77AC30" stroke-width="2.3"/>
<line x1="435.75" y1="250" x2="445.25" y2="250" stroke="#77AC30" stroke-width="2.3"/>
<line x1="453.63" y1="203.6" x2="453.63" y2="260" stroke="#77AC30" stroke-width="2.3"/>
<line x1="448.88" y1="203.6" x2="458.38" y2="203.6" stroke="#77AC30" stroke-width="2.3"/>
<line x1="448.88" y1="260" x2="458.38" y2="260" stroke="#77AC30" stroke-width="2.3"/>
<line x1="465.97" y1="214.9" x2="465.97" y2="270" stroke="#77AC30" stroke-width="2.3"/>
<line x1="461.22" y1="214.9" x2="470.72" y2="214.9" stroke="#77AC30" stroke-width="2.3"/>
<line x1="461.22" y1="270" x2="470.72" y2="270" stroke="#77AC30" stroke-width="2.3"/>
<line x1="477.6" y1="218.4" x2="477.6" y2="275" stroke="#77AC30" stroke-width="2.3"/>
<line x1="472.85" y1="218.4" x2="482.35" y2="218.4" stroke="#77AC30" stroke-width="2.3"/>
<line x1="472.85" y1="275" x2="482.35" y2="275" stroke="#77AC30" stroke-width="2.3"/>
<line x1="488.6" y1="265.5" x2="488.6" y2="296.9" stroke="#77AC30" stroke-width="2.3"/>
<line x1="483.85" y1="265.5" x2="493.35" y2="265.5" stroke="#77AC30" stroke-width="2.3"/>
<line x1="499.03" y1="235" x2="499.03" y2="290" stroke="#77AC30" stroke-width="2.3"/>
<line x1="494.28" y1="235" x2="503.78" y2="235" stroke="#77AC30" stroke-width="2.3"/>
<line x1="494.28" y1="290" x2="503.78" y2="290" stroke="#77AC30" stroke-width="2.3"/>
<line x1="508.96" y1="248.2" x2="508.96" y2="279.5" stroke="#77AC30" stroke-width="2.3"/>
<line x1="504.21" y1="248.2" x2="513.71" y2="248.2" stroke="#77AC30" stroke-width="2.3"/>
<line x1="518.43" y1="230.2" x2="518.43" y2="256.4" stroke="#77AC30" stroke-width="2.3"/>
<line x1="513.68" y1="230.2" x2="523.18" y2="230.2" stroke="#77AC30" stroke-width="2.3"/>
<line x1="527.47" y1="266.9" x2="527.47" y2="297" stroke="#77AC30" stroke-width="2.3"/>
<line x1="522.72" y1="266.9" x2="532.22" y2="266.9" stroke="#77AC30" stroke-width="2.3"/>
<line x1="536.13" y1="266.9" x2="536.13" y2="298.3" stroke="#77AC30" stroke-width="2.3"/>
<line x1="531.38" y1="266.9" x2="540.88" y2="266.9" stroke="#77AC30" stroke-width="2.3"/>
<line x1="544.43" y1="266.9" x2="544.43" y2="296.3" stroke="#77AC30" stroke-width="2.3"/>
<line x1="539.68" y1="266.9" x2="549.18" y2="266.9" stroke="#77AC30" stroke-width="2.3"/>
<line x1="560.09" y1="237.4" x2="560.09" y2="268.2" stroke="#77AC30" stroke-width="2.3"/>
<line x1="555.34" y1="237.4" x2="564.84" y2="237.4" stroke="#77AC30" stroke-width="2.3"/>
<circle cx="113.03" cy="43" r="5.6" fill="#77AC30"/>
<circle cx="171.57" cy="75" r="4.4" fill="none" stroke="#77AC30" stroke-width="2.3"/>
<circle cx="216.97" cy="98" r="4.4" fill="none" stroke="#77AC30" stroke-width="2.3"/>
<circle cx="254.06" cy="115" r="4.4" fill="none" stroke="#77AC30" stroke-width="2.3"/>
<circle cx="285.43" cy="141" r="4.4" fill="none" stroke="#77AC30" stroke-width="2.3"/>
<circle cx="312.6" cy="155.8" r="4.4" fill="none" stroke="#77AC30" stroke-width="2.3"/>
<circle cx="336.56" cy="166.2" r="4.4" fill="none" stroke="#77AC30" stroke-width="2.3"/>
<circle cx="358" cy="180" r="4.4" fill="none" stroke="#77AC30" stroke-width="2.3"/>
<circle cx="377.39" cy="189.7" r="4.4" fill="none" stroke="#77AC30" stroke-width="2.3"/>
<circle cx="395.1" cy="205.4" r="4.4" fill="none" stroke="#77AC30" stroke-width="2.3"/>
<circle cx="411.38" cy="213.3" r="4.4" fill="none" stroke="#77AC30" stroke-width="2.3"/>
<circle cx="426.46" cy="222.8" r="4.4" fill="none" stroke="#77AC30" stroke-width="2.3"/>
<circle cx="440.5" cy="224.5" r="4.4" fill="none" stroke="#77AC30" stroke-width="2.3"/>
<circle cx="453.63" cy="233.2" r="4.4" fill="none" stroke="#77AC30" stroke-width="2.3"/>
<circle cx="465.97" cy="242.8" r="4.4" fill="none" stroke="#77AC30" stroke-width="2.3"/>
<circle cx="477.6" cy="245.4" r="4.4" fill="none" stroke="#77AC30" stroke-width="2.3"/>
<circle cx="488.6" cy="296.9" r="4.4" fill="none" stroke="#77AC30" stroke-width="2.3"/>
<circle cx="499.03" cy="260.3" r="4.4" fill="none" stroke="#77AC30" stroke-width="2.3"/>
<circle cx="508.96" cy="279.5" r="4.4" fill="none" stroke="#77AC30" stroke-width="2.3"/>
<circle cx="518.43" cy="256.4" r="4.4" fill="none" stroke="#77AC30" stroke-width="2.3"/>
<circle cx="527.47" cy="297" r="4.4" fill="none" stroke="#77AC30" stroke-width="2.3"/>
<circle cx="536.13" cy="298.3" r="4.4" fill="none" stroke="#77AC30" stroke-width="2.3"/>
<circle cx="544.43" cy="296.3" r="4.4" fill="none" stroke="#77AC30" stroke-width="2.3"/>
<circle cx="560.09" cy="268.2" r="4.4" fill="none" stroke="#77AC30" stroke-width="2.3"/>
<path d="M113.03 59.9 L171.57 64.6 L216.97 78.3 L254.06 95.5 L285.43 115.7 L312.6 143.6 L336.56 168 L358 199.3 L377.39 230 L395.1 268 L411.38 304 L426.46 333.7 L440.5 368 L453.63 440 L457.41 470" fill="none" stroke="#000" stroke-width="3.4" stroke-dasharray="12 10.5"/>
<line x1="113.03" y1="52.4" x2="113.03" y2="66.6" stroke="#000" stroke-width="2.9"/>
<line x1="108.03" y1="52.4" x2="118.03" y2="52.4" stroke="#000" stroke-width="3.3"/>
<line x1="108.03" y1="66.6" x2="118.03" y2="66.6" stroke="#000" stroke-width="3.3"/>
<line x1="171.57" y1="58.5" x2="171.57" y2="73.4" stroke="#000" stroke-width="2.9"/>
<line x1="166.57" y1="58.5" x2="176.57" y2="58.5" stroke="#000" stroke-width="3.3"/>
<line x1="166.57" y1="73.4" x2="176.57" y2="73.4" stroke="#000" stroke-width="3.3"/>
<line x1="216.97" y1="71.5" x2="216.97" y2="83.6" stroke="#000" stroke-width="2.9"/>
<line x1="211.97" y1="71.5" x2="221.97" y2="71.5" stroke="#000" stroke-width="3.3"/>
<line x1="211.97" y1="83.6" x2="221.97" y2="83.6" stroke="#000" stroke-width="3.3"/>
<line x1="254.06" y1="89.5" x2="254.06" y2="101.9" stroke="#000" stroke-width="2.9"/>
<line x1="249.06" y1="89.5" x2="259.06" y2="89.5" stroke="#000" stroke-width="3.3"/>
<line x1="249.06" y1="101.9" x2="259.06" y2="101.9" stroke="#000" stroke-width="3.3"/>
<line x1="285.43" y1="109.6" x2="285.43" y2="121.8" stroke="#000" stroke-width="2.9"/>
<line x1="280.43" y1="109.6" x2="290.43" y2="109.6" stroke="#000" stroke-width="3.3"/>
<line x1="280.43" y1="121.8" x2="290.43" y2="121.8" stroke="#000" stroke-width="3.3"/>
<line x1="312.6" y1="135.8" x2="312.6" y2="147.7" stroke="#000" stroke-width="2.9"/>
<line x1="307.6" y1="135.8" x2="317.6" y2="135.8" stroke="#000" stroke-width="3.3"/>
<line x1="307.6" y1="147.7" x2="317.6" y2="147.7" stroke="#000" stroke-width="3.3"/>
<line x1="336.56" y1="160" x2="336.56" y2="176" stroke="#000" stroke-width="2.9"/>
<line x1="331.56" y1="160" x2="341.56" y2="160" stroke="#000" stroke-width="3.3"/>
<line x1="331.56" y1="176" x2="341.56" y2="176" stroke="#000" stroke-width="3.3"/>
<line x1="358" y1="192.4" x2="358" y2="206" stroke="#000" stroke-width="2.9"/>
<line x1="353" y1="192.4" x2="363" y2="192.4" stroke="#000" stroke-width="3.3"/>
<line x1="353" y1="206" x2="363" y2="206" stroke="#000" stroke-width="3.3"/>
<line x1="377.39" y1="221.6" x2="377.39" y2="237" stroke="#000" stroke-width="2.9"/>
<line x1="372.39" y1="221.6" x2="382.39" y2="221.6" stroke="#000" stroke-width="3.3"/>
<line x1="372.39" y1="237" x2="382.39" y2="237" stroke="#000" stroke-width="3.3"/>
<line x1="395.1" y1="262.2" x2="395.1" y2="273.9" stroke="#000" stroke-width="2.9"/>
<line x1="390.1" y1="262.2" x2="400.1" y2="262.2" stroke="#000" stroke-width="3.3"/>
<line x1="390.1" y1="273.9" x2="400.1" y2="273.9" stroke="#000" stroke-width="3.3"/>
<line x1="411.38" y1="296.3" x2="411.38" y2="312" stroke="#000" stroke-width="2.9"/>
<line x1="406.38" y1="296.3" x2="416.38" y2="296.3" stroke="#000" stroke-width="3.3"/>
<line x1="406.38" y1="312" x2="416.38" y2="312" stroke="#000" stroke-width="3.3"/>
<line x1="426.46" y1="326.8" x2="426.46" y2="340.6" stroke="#000" stroke-width="2.9"/>
<line x1="421.46" y1="326.8" x2="431.46" y2="326.8" stroke="#000" stroke-width="3.3"/>
<line x1="421.46" y1="340.6" x2="431.46" y2="340.6" stroke="#000" stroke-width="3.3"/>
<line x1="440.5" y1="354.3" x2="440.5" y2="386.7" stroke="#000" stroke-width="2.9"/>
<line x1="435.5" y1="354.3" x2="445.5" y2="354.3" stroke="#000" stroke-width="3.3"/>
<line x1="435.5" y1="386.7" x2="445.5" y2="386.7" stroke="#000" stroke-width="3.3"/>
<line x1="453.63" y1="416.2" x2="453.63" y2="439.3" stroke="#000" stroke-width="2.9"/>
<line x1="448.63" y1="416.2" x2="458.63" y2="416.2" stroke="#000" stroke-width="3.3"/>
<circle cx="527.47" cy="373.3" r="3.6" fill="none" stroke="#7E2F8E" stroke-width="2.3"/>
<line x1="522.72" y1="343.3" x2="532.22" y2="343.3" stroke="#7E2F8E" stroke-width="2.3"/>
<line x1="254.1" y1="88.4" x2="567" y2="439.3" stroke="#0072BD" stroke-width="2.9"/>
<line x1="254.1" y1="105.8" x2="560" y2="439.3" stroke="#D95319" stroke-width="2.9"/>
<line x1="254.1" y1="152" x2="564" y2="439.3" stroke="#EDB120" stroke-width="2.9"/>
<line x1="254.1" y1="125" x2="655.4" y2="339.1" stroke="#77AC30" stroke-width="2.9"/>
<line x1="254.1" y1="102.8" x2="655.4" y2="377.6" stroke="#7E2F8E" stroke-width="2.9"/>
</g>
<rect x="424" y="23.3" width="241" height="173" fill="#fff"/>
<line x1="455.3" y1="118.2" x2="651.8" y2="118.2" stroke="#e6e6e6" stroke-width="1"/>
<line x1="455.3" y1="66.7" x2="651.8" y2="66.7" stroke="#e6e6e6" stroke-width="1"/>
<line x1="520.8" y1="24.73" x2="520.8" y2="169.7" stroke="#e6e6e6" stroke-width="1"/>
<line x1="586.3" y1="24.73" x2="586.3" y2="169.7" stroke="#e6e6e6" stroke-width="1"/>
<line x1="651.8" y1="24.73" x2="651.8" y2="169.7" stroke="#e6e6e6" stroke-width="1"/>
<line x1="468.4" y1="137.2" x2="468.4" y2="147.1" stroke="#0072BD" stroke-width="1.3"/>
<line x1="465.8" y1="137.2" x2="471" y2="137.2" stroke="#0072BD" stroke-width="1.3"/>
<line x1="465.8" y1="147.1" x2="471" y2="147.1" stroke="#0072BD" stroke-width="1.3"/>
<circle cx="468.4" cy="142.1" r="2.3" fill="#0072BD"/>
<line x1="481.5" y1="155" x2="481.5" y2="158.6" stroke="#0072BD" stroke-width="1.3"/>
<line x1="478.9" y1="155" x2="484.1" y2="155" stroke="#0072BD" stroke-width="1.3"/>
<line x1="478.9" y1="158.6" x2="484.1" y2="158.6" stroke="#0072BD" stroke-width="1.3"/>
<circle cx="481.5" cy="157" r="2.3" fill="#0072BD"/>
<line x1="494.6" y1="24.1" x2="494.6" y2="36.9" stroke="#0072BD" stroke-width="1.3"/>
<line x1="492" y1="24.1" x2="497.2" y2="24.1" stroke="#0072BD" stroke-width="1.3"/>
<line x1="492" y1="36.9" x2="497.2" y2="36.9" stroke="#0072BD" stroke-width="1.3"/>
<circle cx="494.6" cy="30.1" r="2.3" fill="#0072BD"/>
<line x1="507.7" y1="119.5" x2="507.7" y2="124" stroke="#0072BD" stroke-width="1.3"/>
<line x1="505.1" y1="119.5" x2="510.3" y2="119.5" stroke="#0072BD" stroke-width="1.3"/>
<line x1="505.1" y1="124" x2="510.3" y2="124" stroke="#0072BD" stroke-width="1.3"/>
<circle cx="507.7" cy="121.5" r="2.3" fill="#0072BD"/>
<line x1="520.8" y1="148.5" x2="520.8" y2="152.5" stroke="#0072BD" stroke-width="1.3"/>
<line x1="518.2" y1="148.5" x2="523.4" y2="148.5" stroke="#0072BD" stroke-width="1.3"/>
<line x1="518.2" y1="152.5" x2="523.4" y2="152.5" stroke="#0072BD" stroke-width="1.3"/>
<circle cx="520.8" cy="150.4" r="2.3" fill="#0072BD"/>
<line x1="533.9" y1="160" x2="533.9" y2="163" stroke="#0072BD" stroke-width="1.3"/>
<line x1="531.3" y1="160" x2="536.5" y2="160" stroke="#0072BD" stroke-width="1.3"/>
<line x1="531.3" y1="163" x2="536.5" y2="163" stroke="#0072BD" stroke-width="1.3"/>
<circle cx="533.9" cy="161.5" r="2.3" fill="#0072BD"/>
<line x1="547" y1="163.5" x2="547" y2="166" stroke="#0072BD" stroke-width="1.3"/>
<line x1="544.4" y1="163.5" x2="549.6" y2="163.5" stroke="#0072BD" stroke-width="1.3"/>
<line x1="544.4" y1="166" x2="549.6" y2="166" stroke="#0072BD" stroke-width="1.3"/>
<circle cx="547" cy="164.8" r="2.3" fill="#0072BD"/>
<line x1="560.1" y1="167" x2="560.1" y2="168.2" stroke="#0072BD" stroke-width="1.3"/>
<line x1="557.5" y1="167" x2="562.7" y2="167" stroke="#0072BD" stroke-width="1.3"/>
<line x1="557.5" y1="168.2" x2="562.7" y2="168.2" stroke="#0072BD" stroke-width="1.3"/>
<circle cx="560.1" cy="167.5" r="2.3" fill="#0072BD"/>
<line x1="573.2" y1="168" x2="573.2" y2="169" stroke="#0072BD" stroke-width="1.3"/>
<line x1="570.6" y1="168" x2="575.8" y2="168" stroke="#0072BD" stroke-width="1.3"/>
<line x1="570.6" y1="169" x2="575.8" y2="169" stroke="#0072BD" stroke-width="1.3"/>
<circle cx="573.2" cy="168.5" r="2.3" fill="#0072BD"/>
<line x1="586.3" y1="168.7" x2="586.3" y2="169.3" stroke="#0072BD" stroke-width="1.3"/>
<line x1="583.7" y1="168.7" x2="588.9" y2="168.7" stroke="#0072BD" stroke-width="1.3"/>
<line x1="583.7" y1="169.3" x2="588.9" y2="169.3" stroke="#0072BD" stroke-width="1.3"/>
<circle cx="586.3" cy="169" r="2.3" fill="#0072BD"/>
<line x1="468.4" y1="112.5" x2="468.4" y2="125.6" stroke="#D95319" stroke-width="1.3"/>
<line x1="465.8" y1="112.5" x2="471" y2="112.5" stroke="#D95319" stroke-width="1.3"/>
<line x1="465.8" y1="125.6" x2="471" y2="125.6" stroke="#D95319" stroke-width="1.3"/>
<circle cx="468.4" cy="117.3" r="2.3" fill="#D95319"/>
<line x1="481.5" y1="147" x2="481.5" y2="154" stroke="#D95319" stroke-width="1.3"/>
<line x1="478.9" y1="147" x2="484.1" y2="147" stroke="#D95319" stroke-width="1.3"/>
<line x1="478.9" y1="154" x2="484.1" y2="154" stroke="#D95319" stroke-width="1.3"/>
<circle cx="481.5" cy="150.4" r="2.3" fill="#D95319"/>
<line x1="494.6" y1="37.6" x2="494.6" y2="46.4" stroke="#D95319" stroke-width="1.3"/>
<line x1="492" y1="37.6" x2="497.2" y2="37.6" stroke="#D95319" stroke-width="1.3"/>
<line x1="492" y1="46.4" x2="497.2" y2="46.4" stroke="#D95319" stroke-width="1.3"/>
<circle cx="494.6" cy="42.3" r="2.3" fill="#D95319"/>
<line x1="507.7" y1="126.4" x2="507.7" y2="131" stroke="#D95319" stroke-width="1.3"/>
<line x1="505.1" y1="126.4" x2="510.3" y2="126.4" stroke="#D95319" stroke-width="1.3"/>
<line x1="505.1" y1="131" x2="510.3" y2="131" stroke="#D95319" stroke-width="1.3"/>
<circle cx="507.7" cy="128.5" r="2.3" fill="#D95319"/>
<line x1="520.8" y1="153" x2="520.8" y2="157.5" stroke="#D95319" stroke-width="1.3"/>
<line x1="518.2" y1="153" x2="523.4" y2="153" stroke="#D95319" stroke-width="1.3"/>
<line x1="518.2" y1="157.5" x2="523.4" y2="157.5" stroke="#D95319" stroke-width="1.3"/>
<circle cx="520.8" cy="155.3" r="2.3" fill="#D95319"/>
<line x1="533.9" y1="161.5" x2="533.9" y2="164.5" stroke="#D95319" stroke-width="1.3"/>
<line x1="531.3" y1="161.5" x2="536.5" y2="161.5" stroke="#D95319" stroke-width="1.3"/>
<line x1="531.3" y1="164.5" x2="536.5" y2="164.5" stroke="#D95319" stroke-width="1.3"/>
<circle cx="533.9" cy="163" r="2.3" fill="#D95319"/>
<line x1="547" y1="165" x2="547" y2="167" stroke="#D95319" stroke-width="1.3"/>
<line x1="544.4" y1="165" x2="549.6" y2="165" stroke="#D95319" stroke-width="1.3"/>
<line x1="544.4" y1="167" x2="549.6" y2="167" stroke="#D95319" stroke-width="1.3"/>
<circle cx="547" cy="166" r="2.3" fill="#D95319"/>
<line x1="560.1" y1="167.5" x2="560.1" y2="168.5" stroke="#D95319" stroke-width="1.3"/>
<line x1="557.5" y1="167.5" x2="562.7" y2="167.5" stroke="#D95319" stroke-width="1.3"/>
<line x1="557.5" y1="168.5" x2="562.7" y2="168.5" stroke="#D95319" stroke-width="1.3"/>
<circle cx="560.1" cy="168" r="2.3" fill="#D95319"/>
<line x1="573.2" y1="168.5" x2="573.2" y2="169.2" stroke="#D95319" stroke-width="1.3"/>
<line x1="570.6" y1="168.5" x2="575.8" y2="168.5" stroke="#D95319" stroke-width="1.3"/>
<line x1="570.6" y1="169.2" x2="575.8" y2="169.2" stroke="#D95319" stroke-width="1.3"/>
<circle cx="573.2" cy="168.8" r="2.3" fill="#D95319"/>
<line x1="468.4" y1="106.6" x2="468.4" y2="114.9" stroke="#7E2F8E" stroke-width="1.3"/>
<line x1="465.8" y1="106.6" x2="471" y2="106.6" stroke="#7E2F8E" stroke-width="1.3"/>
<line x1="465.8" y1="114.9" x2="471" y2="114.9" stroke="#7E2F8E" stroke-width="1.3"/>
<circle cx="468.4" cy="110.2" r="2.3" fill="#7E2F8E"/>
<line x1="481.5" y1="152" x2="481.5" y2="157" stroke="#7E2F8E" stroke-width="1.3"/>
<line x1="478.9" y1="152" x2="484.1" y2="152" stroke="#7E2F8E" stroke-width="1.3"/>
<line x1="478.9" y1="157" x2="484.1" y2="157" stroke="#7E2F8E" stroke-width="1.3"/>
<circle cx="481.5" cy="154.5" r="2.3" fill="#7E2F8E"/>
<line x1="494.6" y1="49.7" x2="494.6" y2="61.9" stroke="#7E2F8E" stroke-width="1.3"/>
<line x1="492" y1="49.7" x2="497.2" y2="49.7" stroke="#7E2F8E" stroke-width="1.3"/>
<line x1="492" y1="61.9" x2="497.2" y2="61.9" stroke="#7E2F8E" stroke-width="1.3"/>
<circle cx="494.6" cy="55.8" r="2.3" fill="#7E2F8E"/>
<line x1="507.7" y1="128" x2="507.7" y2="134.5" stroke="#7E2F8E" stroke-width="1.3"/>
<line x1="505.1" y1="128" x2="510.3" y2="128" stroke="#7E2F8E" stroke-width="1.3"/>
<line x1="505.1" y1="134.5" x2="510.3" y2="134.5" stroke="#7E2F8E" stroke-width="1.3"/>
<circle cx="507.7" cy="131.4" r="2.3" fill="#7E2F8E"/>
<line x1="520.8" y1="150.5" x2="520.8" y2="155" stroke="#7E2F8E" stroke-width="1.3"/>
<line x1="518.2" y1="150.5" x2="523.4" y2="150.5" stroke="#7E2F8E" stroke-width="1.3"/>
<line x1="518.2" y1="155" x2="523.4" y2="155" stroke="#7E2F8E" stroke-width="1.3"/>
<circle cx="520.8" cy="152.8" r="2.3" fill="#7E2F8E"/>
<line x1="533.9" y1="160.5" x2="533.9" y2="163.5" stroke="#7E2F8E" stroke-width="1.3"/>
<line x1="531.3" y1="160.5" x2="536.5" y2="160.5" stroke="#7E2F8E" stroke-width="1.3"/>
<line x1="531.3" y1="163.5" x2="536.5" y2="163.5" stroke="#7E2F8E" stroke-width="1.3"/>
<circle cx="533.9" cy="162" r="2.3" fill="#7E2F8E"/>
<line x1="547" y1="164.5" x2="547" y2="166.5" stroke="#7E2F8E" stroke-width="1.3"/>
<line x1="544.4" y1="164.5" x2="549.6" y2="164.5" stroke="#7E2F8E" stroke-width="1.3"/>
<line x1="544.4" y1="166.5" x2="549.6" y2="166.5" stroke="#7E2F8E" stroke-width="1.3"/>
<circle cx="547" cy="165.5" r="2.3" fill="#7E2F8E"/>
<line x1="560.1" y1="167.2" x2="560.1" y2="168.4" stroke="#7E2F8E" stroke-width="1.3"/>
<line x1="557.5" y1="167.2" x2="562.7" y2="167.2" stroke="#7E2F8E" stroke-width="1.3"/>
<line x1="557.5" y1="168.4" x2="562.7" y2="168.4" stroke="#7E2F8E" stroke-width="1.3"/>
<circle cx="560.1" cy="167.8" r="2.3" fill="#7E2F8E"/>
<line x1="573.2" y1="168.4" x2="573.2" y2="169" stroke="#7E2F8E" stroke-width="1.3"/>
<line x1="570.6" y1="168.4" x2="575.8" y2="168.4" stroke="#7E2F8E" stroke-width="1.3"/>
<line x1="570.6" y1="169" x2="575.8" y2="169" stroke="#7E2F8E" stroke-width="1.3"/>
<circle cx="573.2" cy="168.7" r="2.3" fill="#7E2F8E"/>
<line x1="468.4" y1="60.3" x2="468.4" y2="98" stroke="#EDB120" stroke-width="1.3"/>
<line x1="465.8" y1="60.3" x2="471" y2="60.3" stroke="#EDB120" stroke-width="1.3"/>
<line x1="465.8" y1="98" x2="471" y2="98" stroke="#EDB120" stroke-width="1.3"/>
<circle cx="468.4" cy="78.4" r="2.3" fill="#EDB120"/>
<line x1="481.5" y1="123.1" x2="481.5" y2="145" stroke="#EDB120" stroke-width="1.3"/>
<line x1="478.9" y1="123.1" x2="484.1" y2="123.1" stroke="#EDB120" stroke-width="1.3"/>
<line x1="478.9" y1="145" x2="484.1" y2="145" stroke="#EDB120" stroke-width="1.3"/>
<circle cx="481.5" cy="131.4" r="2.3" fill="#EDB120"/>
<line x1="494.6" y1="62" x2="494.6" y2="71" stroke="#EDB120" stroke-width="1.3"/>
<line x1="492" y1="62" x2="497.2" y2="62" stroke="#EDB120" stroke-width="1.3"/>
<line x1="492" y1="71" x2="497.2" y2="71" stroke="#EDB120" stroke-width="1.3"/>
<circle cx="494.6" cy="66.6" r="2.3" fill="#EDB120"/>
<line x1="507.7" y1="144" x2="507.7" y2="157.8" stroke="#EDB120" stroke-width="1.3"/>
<line x1="505.1" y1="144" x2="510.3" y2="144" stroke="#EDB120" stroke-width="1.3"/>
<line x1="505.1" y1="157.8" x2="510.3" y2="157.8" stroke="#EDB120" stroke-width="1.3"/>
<circle cx="507.7" cy="151.2" r="2.3" fill="#EDB120"/>
<line x1="520.8" y1="163" x2="520.8" y2="168.5" stroke="#EDB120" stroke-width="1.3"/>
<line x1="518.2" y1="163" x2="523.4" y2="163" stroke="#EDB120" stroke-width="1.3"/>
<line x1="518.2" y1="168.5" x2="523.4" y2="168.5" stroke="#EDB120" stroke-width="1.3"/>
<circle cx="520.8" cy="166" r="2.3" fill="#EDB120"/>
<line x1="533.9" y1="166.5" x2="533.9" y2="168.5" stroke="#EDB120" stroke-width="1.3"/>
<line x1="531.3" y1="166.5" x2="536.5" y2="166.5" stroke="#EDB120" stroke-width="1.3"/>
<line x1="531.3" y1="168.5" x2="536.5" y2="168.5" stroke="#EDB120" stroke-width="1.3"/>
<circle cx="533.9" cy="167.5" r="2.3" fill="#EDB120"/>
<line x1="547" y1="168" x2="547" y2="169" stroke="#EDB120" stroke-width="1.3"/>
<line x1="544.4" y1="168" x2="549.6" y2="168" stroke="#EDB120" stroke-width="1.3"/>
<line x1="544.4" y1="169" x2="549.6" y2="169" stroke="#EDB120" stroke-width="1.3"/>
<circle cx="547" cy="168.5" r="2.3" fill="#EDB120"/>
<line x1="560.1" y1="168.8" x2="560.1" y2="169.3" stroke="#EDB120" stroke-width="1.3"/>
<line x1="557.5" y1="168.8" x2="562.7" y2="168.8" stroke="#EDB120" stroke-width="1.3"/>
<line x1="557.5" y1="169.3" x2="562.7" y2="169.3" stroke="#EDB120" stroke-width="1.3"/>
<circle cx="560.1" cy="169" r="2.3" fill="#EDB120"/>
<line x1="468.4" y1="80" x2="468.4" y2="95" stroke="#77AC30" stroke-width="1.3"/>
<line x1="465.8" y1="80" x2="471" y2="80" stroke="#77AC30" stroke-width="1.3"/>
<line x1="465.8" y1="95" x2="471" y2="95" stroke="#77AC30" stroke-width="1.3"/>
<circle cx="468.4" cy="88.2" r="2.3" fill="#77AC30"/>
<line x1="481.5" y1="132.2" x2="481.5" y2="147" stroke="#77AC30" stroke-width="1.3"/>
<line x1="478.9" y1="132.2" x2="484.1" y2="132.2" stroke="#77AC30" stroke-width="1.3"/>
<line x1="478.9" y1="147" x2="484.1" y2="147" stroke="#77AC30" stroke-width="1.3"/>
<circle cx="481.5" cy="139.6" r="2.3" fill="#77AC30"/>
<line x1="494.6" y1="71.4" x2="494.6" y2="78.8" stroke="#77AC30" stroke-width="1.3"/>
<line x1="492" y1="71.4" x2="497.2" y2="71.4" stroke="#77AC30" stroke-width="1.3"/>
<line x1="492" y1="78.8" x2="497.2" y2="78.8" stroke="#77AC30" stroke-width="1.3"/>
<circle cx="494.6" cy="74.7" r="2.3" fill="#77AC30"/>
<line x1="507.7" y1="137" x2="507.7" y2="145.5" stroke="#77AC30" stroke-width="1.3"/>
<line x1="505.1" y1="137" x2="510.3" y2="137" stroke="#77AC30" stroke-width="1.3"/>
<line x1="505.1" y1="145.5" x2="510.3" y2="145.5" stroke="#77AC30" stroke-width="1.3"/>
<circle cx="507.7" cy="141.3" r="2.3" fill="#77AC30"/>
<line x1="520.8" y1="155.5" x2="520.8" y2="160" stroke="#77AC30" stroke-width="1.3"/>
<line x1="518.2" y1="155.5" x2="523.4" y2="155.5" stroke="#77AC30" stroke-width="1.3"/>
<line x1="518.2" y1="160" x2="523.4" y2="160" stroke="#77AC30" stroke-width="1.3"/>
<circle cx="520.8" cy="157.8" r="2.3" fill="#77AC30"/>
<line x1="533.9" y1="162" x2="533.9" y2="165" stroke="#77AC30" stroke-width="1.3"/>
<line x1="531.3" y1="162" x2="536.5" y2="162" stroke="#77AC30" stroke-width="1.3"/>
<line x1="531.3" y1="165" x2="536.5" y2="165" stroke="#77AC30" stroke-width="1.3"/>
<circle cx="533.9" cy="163.5" r="2.3" fill="#77AC30"/>
<line x1="547" y1="165.5" x2="547" y2="167.5" stroke="#77AC30" stroke-width="1.3"/>
<line x1="544.4" y1="165.5" x2="549.6" y2="165.5" stroke="#77AC30" stroke-width="1.3"/>
<line x1="544.4" y1="167.5" x2="549.6" y2="167.5" stroke="#77AC30" stroke-width="1.3"/>
<circle cx="547" cy="166.5" r="2.3" fill="#77AC30"/>
<line x1="560.1" y1="167.5" x2="560.1" y2="168.6" stroke="#77AC30" stroke-width="1.3"/>
<line x1="557.5" y1="167.5" x2="562.7" y2="167.5" stroke="#77AC30" stroke-width="1.3"/>
<line x1="557.5" y1="168.6" x2="562.7" y2="168.6" stroke="#77AC30" stroke-width="1.3"/>
<circle cx="560.1" cy="168" r="2.3" fill="#77AC30"/>
<line x1="573.2" y1="168.5" x2="573.2" y2="169.1" stroke="#77AC30" stroke-width="1.3"/>
<line x1="570.6" y1="168.5" x2="575.8" y2="168.5" stroke="#77AC30" stroke-width="1.3"/>
<line x1="570.6" y1="169.1" x2="575.8" y2="169.1" stroke="#77AC30" stroke-width="1.3"/>
<circle cx="573.2" cy="168.8" r="2.3" fill="#77AC30"/>
<line x1="586.3" y1="168.9" x2="586.3" y2="169.4" stroke="#77AC30" stroke-width="1.3"/>
<line x1="583.7" y1="168.9" x2="588.9" y2="168.9" stroke="#77AC30" stroke-width="1.3"/>
<line x1="583.7" y1="169.4" x2="588.9" y2="169.4" stroke="#77AC30" stroke-width="1.3"/>
<circle cx="586.3" cy="169.1" r="2.3" fill="#77AC30"/>
<line x1="599.4" y1="169.1" x2="599.4" y2="169.5" stroke="#77AC30" stroke-width="1.3"/>
<line x1="596.8" y1="169.1" x2="602" y2="169.1" stroke="#77AC30" stroke-width="1.3"/>
<line x1="596.8" y1="169.5" x2="602" y2="169.5" stroke="#77AC30" stroke-width="1.3"/>
<circle cx="599.4" cy="169.3" r="2.3" fill="#77AC30"/>
<line x1="612.5" y1="169.2" x2="612.5" y2="169.6" stroke="#77AC30" stroke-width="1.3"/>
<line x1="609.9" y1="169.2" x2="615.1" y2="169.2" stroke="#77AC30" stroke-width="1.3"/>
<line x1="609.9" y1="169.6" x2="615.1" y2="169.6" stroke="#77AC30" stroke-width="1.3"/>
<circle cx="612.5" cy="169.4" r="2.3" fill="#77AC30"/>
<line x1="625.6" y1="169.3" x2="625.6" y2="169.7" stroke="#77AC30" stroke-width="1.3"/>
<line x1="623" y1="169.3" x2="628.2" y2="169.3" stroke="#77AC30" stroke-width="1.3"/>
<line x1="623" y1="169.7" x2="628.2" y2="169.7" stroke="#77AC30" stroke-width="1.3"/>
<circle cx="625.6" cy="169.5" r="2.3" fill="#77AC30"/>
<line x1="638.7" y1="169.3" x2="638.7" y2="169.7" stroke="#77AC30" stroke-width="1.3"/>
<line x1="636.1" y1="169.3" x2="641.3" y2="169.3" stroke="#77AC30" stroke-width="1.3"/>
<line x1="636.1" y1="169.7" x2="641.3" y2="169.7" stroke="#77AC30" stroke-width="1.3"/>
<circle cx="638.7" cy="169.5" r="2.3" fill="#77AC30"/>
<line x1="651.8" y1="169.4" x2="651.8" y2="169.8" stroke="#77AC30" stroke-width="1.3"/>
<line x1="649.2" y1="169.4" x2="654.4" y2="169.4" stroke="#77AC30" stroke-width="1.3"/>
<line x1="649.2" y1="169.8" x2="654.4" y2="169.8" stroke="#77AC30" stroke-width="1.3"/>
<circle cx="651.8" cy="169.6" r="2.3" fill="#77AC30"/>
<line x1="455.3" y1="23.5" x2="455.3" y2="170.2" stroke="#a8a8a8" stroke-width="1.1"/>
<line x1="454.8" y1="169.7" x2="651.8" y2="169.7" stroke="#a8a8a8" stroke-width="1.1"/>
<line x1="455.3" y1="169.7" x2="459.3" y2="169.7" stroke="#a0a0a0" stroke-width="1"/>
<line x1="455.3" y1="156.82" x2="458.3" y2="156.82" stroke="#a0a0a0" stroke-width="1"/>
<line x1="455.3" y1="143.95" x2="458.3" y2="143.95" stroke="#a0a0a0" stroke-width="1"/>
<line x1="455.3" y1="131.07" x2="458.3" y2="131.07" stroke="#a0a0a0" stroke-width="1"/>
<line x1="455.3" y1="118.2" x2="459.3" y2="118.2" stroke="#a0a0a0" stroke-width="1"/>
<line x1="455.3" y1="105.32" x2="458.3" y2="105.32" stroke="#a0a0a0" stroke-width="1"/>
<line x1="455.3" y1="92.45" x2="458.3" y2="92.45" stroke="#a0a0a0" stroke-width="1"/>
<line x1="455.3" y1="79.57" x2="458.3" y2="79.57" stroke="#a0a0a0" stroke-width="1"/>
<line x1="455.3" y1="66.7" x2="459.3" y2="66.7" stroke="#a0a0a0" stroke-width="1"/>
<line x1="455.3" y1="53.82" x2="458.3" y2="53.82" stroke="#a0a0a0" stroke-width="1"/>
<line x1="455.3" y1="40.95" x2="458.3" y2="40.95" stroke="#a0a0a0" stroke-width="1"/>
<line x1="455.3" y1="28.07" x2="458.3" y2="28.07" stroke="#a0a0a0" stroke-width="1"/>
<line x1="455.3" y1="169.7" x2="455.3" y2="165.7" stroke="#a0a0a0" stroke-width="1"/>
<line x1="468.4" y1="169.7" x2="468.4" y2="166.7" stroke="#a0a0a0" stroke-width="1"/>
<line x1="481.5" y1="169.7" x2="481.5" y2="166.7" stroke="#a0a0a0" stroke-width="1"/>
<line x1="494.6" y1="169.7" x2="494.6" y2="166.7" stroke="#a0a0a0" stroke-width="1"/>
<line x1="507.7" y1="169.7" x2="507.7" y2="166.7" stroke="#a0a0a0" stroke-width="1"/>
<line x1="520.8" y1="169.7" x2="520.8" y2="165.7" stroke="#a0a0a0" stroke-width="1"/>
<line x1="533.9" y1="169.7" x2="533.9" y2="166.7" stroke="#a0a0a0" stroke-width="1"/>
<line x1="547" y1="169.7" x2="547" y2="166.7" stroke="#a0a0a0" stroke-width="1"/>
<line x1="560.1" y1="169.7" x2="560.1" y2="166.7" stroke="#a0a0a0" stroke-width="1"/>
<line x1="573.2" y1="169.7" x2="573.2" y2="166.7" stroke="#a0a0a0" stroke-width="1"/>
<line x1="586.3" y1="169.7" x2="586.3" y2="165.7" stroke="#a0a0a0" stroke-width="1"/>
<line x1="599.4" y1="169.7" x2="599.4" y2="166.7" stroke="#a0a0a0" stroke-width="1"/>
<line x1="612.5" y1="169.7" x2="612.5" y2="166.7" stroke="#a0a0a0" stroke-width="1"/>
<line x1="625.6" y1="169.7" x2="625.6" y2="166.7" stroke="#a0a0a0" stroke-width="1"/>
<line x1="638.7" y1="169.7" x2="638.7" y2="166.7" stroke="#a0a0a0" stroke-width="1"/>
<line x1="651.8" y1="169.7" x2="651.8" y2="165.7" stroke="#a0a0a0" stroke-width="1"/>
<text x="439.5" y="175" font-size="21" text-anchor="start" font-family='"Liberation Serif", serif' textLength="10.2" lengthAdjust="spacingAndGlyphs" fill="#000">0</text>
<text x="423.7" y="123.5" font-size="21" text-anchor="start" font-family='"Liberation Serif", serif' textLength="26" lengthAdjust="spacingAndGlyphs" fill="#000">0.2</text>
<text x="423.7" y="72" font-size="21" text-anchor="start" font-family='"Liberation Serif", serif' textLength="26" lengthAdjust="spacingAndGlyphs" fill="#000">0.4</text>
<text x="450.2" y="192.6" font-size="21" text-anchor="start" font-family='"Liberation Serif", serif' textLength="10.2" lengthAdjust="spacingAndGlyphs" fill="#000">0</text>
<text x="515.7" y="192.6" font-size="21" text-anchor="start" font-family='"Liberation Serif", serif' textLength="10.2" lengthAdjust="spacingAndGlyphs" fill="#000">5</text>
<text x="577.05" y="192.6" font-size="21" text-anchor="start" font-family='"Liberation Serif", serif' textLength="18.5" lengthAdjust="spacingAndGlyphs" fill="#000">10</text>
<text x="642.55" y="192.6" font-size="21" text-anchor="start" font-family='"Liberation Serif", serif' textLength="18.5" lengthAdjust="spacingAndGlyphs" fill="#000">15</text>
<line x1="113" y1="16.5" x2="118.5" y2="16.5" stroke="#555555" stroke-width="1"/>
<line x1="665.3" y1="16.5" x2="659.8" y2="16.5" stroke="#555555" stroke-width="1"/>
<line x1="113" y1="58.72" x2="116" y2="58.72" stroke="#555555" stroke-width="1"/>
<line x1="665.3" y1="58.72" x2="662.3" y2="58.72" stroke="#555555" stroke-width="1"/>
<line x1="113" y1="48.08" x2="116" y2="48.08" stroke="#555555" stroke-width="1"/>
<line x1="665.3" y1="48.08" x2="662.3" y2="48.08" stroke="#555555" stroke-width="1"/>
<line x1="113" y1="40.54" x2="116" y2="40.54" stroke="#555555" stroke-width="1"/>
<line x1="665.3" y1="40.54" x2="662.3" y2="40.54" stroke="#555555" stroke-width="1"/>
<line x1="113" y1="34.68" x2="116" y2="34.68" stroke="#555555" stroke-width="1"/>
<line x1="665.3" y1="34.68" x2="662.3" y2="34.68" stroke="#555555" stroke-width="1"/>
<line x1="113" y1="29.9" x2="116" y2="29.9" stroke="#555555" stroke-width="1"/>
<line x1="665.3" y1="29.9" x2="662.3" y2="29.9" stroke="#555555" stroke-width="1"/>
<line x1="113" y1="25.86" x2="116" y2="25.86" stroke="#555555" stroke-width="1"/>
<line x1="665.3" y1="25.86" x2="662.3" y2="25.86" stroke="#555555" stroke-width="1"/>
<line x1="113" y1="22.35" x2="116" y2="22.35" stroke="#555555" stroke-width="1"/>
<line x1="665.3" y1="22.35" x2="662.3" y2="22.35" stroke="#555555" stroke-width="1"/>
<line x1="113" y1="19.26" x2="116" y2="19.26" stroke="#555555" stroke-width="1"/>
<line x1="665.3" y1="19.26" x2="662.3" y2="19.26" stroke="#555555" stroke-width="1"/>
<line x1="113" y1="76.9" x2="116" y2="76.9" stroke="#555555" stroke-width="1"/>
<line x1="665.3" y1="76.9" x2="662.3" y2="76.9" stroke="#555555" stroke-width="1"/>
<line x1="113" y1="119.12" x2="116" y2="119.12" stroke="#555555" stroke-width="1"/>
<line x1="665.3" y1="119.12" x2="662.3" y2="119.12" stroke="#555555" stroke-width="1"/>
<line x1="113" y1="108.48" x2="116" y2="108.48" stroke="#555555" stroke-width="1"/>
<line x1="665.3" y1="108.48" x2="662.3" y2="108.48" stroke="#555555" stroke-width="1"/>
<line x1="113" y1="100.94" x2="116" y2="100.94" stroke="#555555" stroke-width="1"/>
<line x1="665.3" y1="100.94" x2="662.3" y2="100.94" stroke="#555555" stroke-width="1"/>
<line x1="113" y1="95.08" x2="116" y2="95.08" stroke="#555555" stroke-width="1"/>
<line x1="665.3" y1="95.08" x2="662.3" y2="95.08" stroke="#555555" stroke-width="1"/>
<line x1="113" y1="90.3" x2="116" y2="90.3" stroke="#555555" stroke-width="1"/>
<line x1="665.3" y1="90.3" x2="662.3" y2="90.3" stroke="#555555" stroke-width="1"/>
<line x1="113" y1="86.26" x2="116" y2="86.26" stroke="#555555" stroke-width="1"/>
<line x1="665.3" y1="86.26" x2="662.3" y2="86.26" stroke="#555555" stroke-width="1"/>
<line x1="113" y1="82.75" x2="116" y2="82.75" stroke="#555555" stroke-width="1"/>
<line x1="665.3" y1="82.75" x2="662.3" y2="82.75" stroke="#555555" stroke-width="1"/>
<line x1="113" y1="79.66" x2="116" y2="79.66" stroke="#555555" stroke-width="1"/>
<line x1="665.3" y1="79.66" x2="662.3" y2="79.66" stroke="#555555" stroke-width="1"/>
<line x1="113" y1="137.3" x2="118.5" y2="137.3" stroke="#555555" stroke-width="1"/>
<line x1="665.3" y1="137.3" x2="659.8" y2="137.3" stroke="#555555" stroke-width="1"/>
<line x1="113" y1="179.52" x2="116" y2="179.52" stroke="#555555" stroke-width="1"/>
<line x1="665.3" y1="179.52" x2="662.3" y2="179.52" stroke="#555555" stroke-width="1"/>
<line x1="113" y1="168.88" x2="116" y2="168.88" stroke="#555555" stroke-width="1"/>
<line x1="665.3" y1="168.88" x2="662.3" y2="168.88" stroke="#555555" stroke-width="1"/>
<line x1="113" y1="161.34" x2="116" y2="161.34" stroke="#555555" stroke-width="1"/>
<line x1="665.3" y1="161.34" x2="662.3" y2="161.34" stroke="#555555" stroke-width="1"/>
<line x1="113" y1="155.48" x2="116" y2="155.48" stroke="#555555" stroke-width="1"/>
<line x1="665.3" y1="155.48" x2="662.3" y2="155.48" stroke="#555555" stroke-width="1"/>
<line x1="113" y1="150.7" x2="116" y2="150.7" stroke="#555555" stroke-width="1"/>
<line x1="665.3" y1="150.7" x2="662.3" y2="150.7" stroke="#555555" stroke-width="1"/>
<line x1="113" y1="146.66" x2="116" y2="146.66" stroke="#555555" stroke-width="1"/>
<line x1="665.3" y1="146.66" x2="662.3" y2="146.66" stroke="#555555" stroke-width="1"/>
<line x1="113" y1="143.15" x2="116" y2="143.15" stroke="#555555" stroke-width="1"/>
<line x1="665.3" y1="143.15" x2="662.3" y2="143.15" stroke="#555555" stroke-width="1"/>
<line x1="113" y1="140.06" x2="116" y2="140.06" stroke="#555555" stroke-width="1"/>
<line x1="665.3" y1="140.06" x2="662.3" y2="140.06" stroke="#555555" stroke-width="1"/>
<line x1="113" y1="197.7" x2="116" y2="197.7" stroke="#555555" stroke-width="1"/>
<line x1="665.3" y1="197.7" x2="662.3" y2="197.7" stroke="#555555" stroke-width="1"/>
<line x1="113" y1="239.92" x2="116" y2="239.92" stroke="#555555" stroke-width="1"/>
<line x1="665.3" y1="239.92" x2="662.3" y2="239.92" stroke="#555555" stroke-width="1"/>
<line x1="113" y1="229.28" x2="116" y2="229.28" stroke="#555555" stroke-width="1"/>
<line x1="665.3" y1="229.28" x2="662.3" y2="229.28" stroke="#555555" stroke-width="1"/>
<line x1="113" y1="221.74" x2="116" y2="221.74" stroke="#555555" stroke-width="1"/>
<line x1="665.3" y1="221.74" x2="662.3" y2="221.74" stroke="#555555" stroke-width="1"/>
<line x1="113" y1="215.88" x2="116" y2="215.88" stroke="#555555" stroke-width="1"/>
<line x1="665.3" y1="215.88" x2="662.3" y2="215.88" stroke="#555555" stroke-width="1"/>
<line x1="113" y1="211.1" x2="116" y2="211.1" stroke="#555555" stroke-width="1"/>
<line x1="665.3" y1="211.1" x2="662.3" y2="211.1" stroke="#555555" stroke-width="1"/>
<line x1="113" y1="207.06" x2="116" y2="207.06" stroke="#555555" stroke-width="1"/>
<line x1="665.3" y1="207.06" x2="662.3" y2="207.06" stroke="#555555" stroke-width="1"/>
<line x1="113" y1="203.55" x2="116" y2="203.55" stroke="#555555" stroke-width="1"/>
<line x1="665.3" y1="203.55" x2="662.3" y2="203.55" stroke="#555555" stroke-width="1"/>
<line x1="113" y1="200.46" x2="116" y2="200.46" stroke="#555555" stroke-width="1"/>
<line x1="665.3" y1="200.46" x2="662.3" y2="200.46" stroke="#555555" stroke-width="1"/>
<line x1="113" y1="258.1" x2="118.5" y2="258.1" stroke="#555555" stroke-width="1"/>
<line x1="665.3" y1="258.1" x2="659.8" y2="258.1" stroke="#555555" stroke-width="1"/>
<line x1="113" y1="300.32" x2="116" y2="300.32" stroke="#555555" stroke-width="1"/>
<line x1="665.3" y1="300.32" x2="662.3" y2="300.32" stroke="#555555" stroke-width="1"/>
<line x1="113" y1="289.68" x2="116" y2="289.68" stroke="#555555" stroke-width="1"/>
<line x1="665.3" y1="289.68" x2="662.3" y2="289.68" stroke="#555555" stroke-width="1"/>
<line x1="113" y1="282.14" x2="116" y2="282.14" stroke="#555555" stroke-width="1"/>
<line x1="665.3" y1="282.14" x2="662.3" y2="282.14" stroke="#555555" stroke-width="1"/>
<line x1="113" y1="276.28" x2="116" y2="276.28" stroke="#555555" stroke-width="1"/>
<line x1="665.3" y1="276.28" x2="662.3" y2="276.28" stroke="#555555" stroke-width="1"/>
<line x1="113" y1="271.5" x2="116" y2="271.5" stroke="#555555" stroke-width="1"/>
<line x1="665.3" y1="271.5" x2="662.3" y2="271.5" stroke="#555555" stroke-width="1"/>
<line x1="113" y1="267.46" x2="116" y2="267.46" stroke="#555555" stroke-width="1"/>
<line x1="665.3" y1="267.46" x2="662.3" y2="267.46" stroke="#555555" stroke-width="1"/>
<line x1="113" y1="263.95" x2="116" y2="263.95" stroke="#555555" stroke-width="1"/>
<line x1="665.3" y1="263.95" x2="662.3" y2="263.95" stroke="#555555" stroke-width="1"/>
<line x1="113" y1="260.86" x2="116" y2="260.86" stroke="#555555" stroke-width="1"/>
<line x1="665.3" y1="260.86" x2="662.3" y2="260.86" stroke="#555555" stroke-width="1"/>
<line x1="113" y1="318.5" x2="116" y2="318.5" stroke="#555555" stroke-width="1"/>
<line x1="665.3" y1="318.5" x2="662.3" y2="318.5" stroke="#555555" stroke-width="1"/>
<line x1="113" y1="360.72" x2="116" y2="360.72" stroke="#555555" stroke-width="1"/>
<line x1="665.3" y1="360.72" x2="662.3" y2="360.72" stroke="#555555" stroke-width="1"/>
<line x1="113" y1="350.08" x2="116" y2="350.08" stroke="#555555" stroke-width="1"/>
<line x1="665.3" y1="350.08" x2="662.3" y2="350.08" stroke="#555555" stroke-width="1"/>
<line x1="113" y1="342.54" x2="116" y2="342.54" stroke="#555555" stroke-width="1"/>
<line x1="665.3" y1="342.54" x2="662.3" y2="342.54" stroke="#555555" stroke-width="1"/>
<line x1="113" y1="336.68" x2="116" y2="336.68" stroke="#555555" stroke-width="1"/>
<line x1="665.3" y1="336.68" x2="662.3" y2="336.68" stroke="#555555" stroke-width="1"/>
<line x1="113" y1="331.9" x2="116" y2="331.9" stroke="#555555" stroke-width="1"/>
<line x1="665.3" y1="331.9" x2="662.3" y2="331.9" stroke="#555555" stroke-width="1"/>
<line x1="113" y1="327.86" x2="116" y2="327.86" stroke="#555555" stroke-width="1"/>
<line x1="665.3" y1="327.86" x2="662.3" y2="327.86" stroke="#555555" stroke-width="1"/>
<line x1="113" y1="324.35" x2="116" y2="324.35" stroke="#555555" stroke-width="1"/>
<line x1="665.3" y1="324.35" x2="662.3" y2="324.35" stroke="#555555" stroke-width="1"/>
<line x1="113" y1="321.26" x2="116" y2="321.26" stroke="#555555" stroke-width="1"/>
<line x1="665.3" y1="321.26" x2="662.3" y2="321.26" stroke="#555555" stroke-width="1"/>
<line x1="113" y1="378.9" x2="118.5" y2="378.9" stroke="#555555" stroke-width="1"/>
<line x1="665.3" y1="378.9" x2="659.8" y2="378.9" stroke="#555555" stroke-width="1"/>
<line x1="113" y1="421.12" x2="116" y2="421.12" stroke="#555555" stroke-width="1"/>
<line x1="665.3" y1="421.12" x2="662.3" y2="421.12" stroke="#555555" stroke-width="1"/>
<line x1="113" y1="410.48" x2="116" y2="410.48" stroke="#555555" stroke-width="1"/>
<line x1="665.3" y1="410.48" x2="662.3" y2="410.48" stroke="#555555" stroke-width="1"/>
<line x1="113" y1="402.94" x2="116" y2="402.94" stroke="#555555" stroke-width="1"/>
<line x1="665.3" y1="402.94" x2="662.3" y2="402.94" stroke="#555555" stroke-width="1"/>
<line x1="113" y1="397.08" x2="116" y2="397.08" stroke="#555555" stroke-width="1"/>
<line x1="665.3" y1="397.08" x2="662.3" y2="397.08" stroke="#555555" stroke-width="1"/>
<line x1="113" y1="392.3" x2="116" y2="392.3" stroke="#555555" stroke-width="1"/>
<line x1="665.3" y1="392.3" x2="662.3" y2="392.3" stroke="#555555" stroke-width="1"/>
<line x1="113" y1="388.26" x2="116" y2="388.26" stroke="#555555" stroke-width="1"/>
<line x1="665.3" y1="388.26" x2="662.3" y2="388.26" stroke="#555555" stroke-width="1"/>
<line x1="113" y1="384.75" x2="116" y2="384.75" stroke="#555555" stroke-width="1"/>
<line x1="665.3" y1="384.75" x2="662.3" y2="384.75" stroke="#555555" stroke-width="1"/>
<line x1="113" y1="381.66" x2="116" y2="381.66" stroke="#555555" stroke-width="1"/>
<line x1="665.3" y1="381.66" x2="662.3" y2="381.66" stroke="#555555" stroke-width="1"/>
<line x1="113" y1="439.3" x2="116" y2="439.3" stroke="#555555" stroke-width="1"/>
<line x1="665.3" y1="439.3" x2="662.3" y2="439.3" stroke="#555555" stroke-width="1"/>
<line x1="171.57" y1="439.3" x2="171.57" y2="436.3" stroke="#555555" stroke-width="1"/>
<line x1="171.57" y1="16.5" x2="171.57" y2="19.5" stroke="#555555" stroke-width="1"/>
<line x1="216.97" y1="439.3" x2="216.97" y2="436.3" stroke="#555555" stroke-width="1"/>
<line x1="216.97" y1="16.5" x2="216.97" y2="19.5" stroke="#555555" stroke-width="1"/>
<line x1="254.06" y1="439.3" x2="254.06" y2="436.3" stroke="#555555" stroke-width="1"/>
<line x1="254.06" y1="16.5" x2="254.06" y2="19.5" stroke="#555555" stroke-width="1"/>
<line x1="285.43" y1="439.3" x2="285.43" y2="436.3" stroke="#555555" stroke-width="1"/>
<line x1="285.43" y1="16.5" x2="285.43" y2="19.5" stroke="#555555" stroke-width="1"/>
<line x1="312.6" y1="439.3" x2="312.6" y2="436.3" stroke="#555555" stroke-width="1"/>
<line x1="312.6" y1="16.5" x2="312.6" y2="19.5" stroke="#555555" stroke-width="1"/>
<line x1="336.56" y1="439.3" x2="336.56" y2="436.3" stroke="#555555" stroke-width="1"/>
<line x1="336.56" y1="16.5" x2="336.56" y2="19.5" stroke="#555555" stroke-width="1"/>
<line x1="358" y1="439.3" x2="358" y2="433.8" stroke="#555555" stroke-width="1"/>
<line x1="358" y1="16.5" x2="358" y2="22" stroke="#555555" stroke-width="1"/>
<line x1="499.03" y1="439.3" x2="499.03" y2="436.3" stroke="#555555" stroke-width="1"/>
<line x1="499.03" y1="16.5" x2="499.03" y2="19.5" stroke="#555555" stroke-width="1"/>
<line x1="581.53" y1="439.3" x2="581.53" y2="436.3" stroke="#555555" stroke-width="1"/>
<line x1="581.53" y1="16.5" x2="581.53" y2="19.5" stroke="#555555" stroke-width="1"/>
<line x1="640.07" y1="439.3" x2="640.07" y2="436.3" stroke="#555555" stroke-width="1"/>
<line x1="640.07" y1="16.5" x2="640.07" y2="19.5" stroke="#555555" stroke-width="1"/>
<rect x="113" y="16.5" width="552.3" height="422.8" fill="none" stroke="#555555" stroke-width="1.3"/>
<text x="-1.5" y="26.2" font-size="28.5" text-anchor="start" font-family='"Liberation Sans", sans-serif' font-weight="bold" class="lab" fill="#000">a)</text>
<text x="65.8" y="24" font-size="29.5" text-anchor="start" font-family='"Liberation Serif", serif' textLength="26" lengthAdjust="spacingAndGlyphs" fill="#000">10</text>
<text x="94.1" y="13.6" font-size="19.5" text-anchor="start" font-family='"Liberation Serif", serif' textLength="8" lengthAdjust="spacingAndGlyphs" fill="#000">0</text>
<text x="51.3" y="144.8" font-size="29.5" text-anchor="start" font-family='"Liberation Serif", serif' textLength="26" lengthAdjust="spacingAndGlyphs" fill="#000">10</text>
<text x="79.6" y="134.4" font-size="19.5" text-anchor="start" font-family='"Liberation Serif", serif' textLength="22.5" lengthAdjust="spacingAndGlyphs" fill="#000">&#8722;2</text>
<text x="51.3" y="265.6" font-size="29.5" text-anchor="start" font-family='"Liberation Serif", serif' textLength="26" lengthAdjust="spacingAndGlyphs" fill="#000">10</text>
<text x="79.6" y="255.2" font-size="19.5" text-anchor="start" font-family='"Liberation Serif", serif' textLength="22.5" lengthAdjust="spacingAndGlyphs" fill="#000">&#8722;4</text>
<text x="51.3" y="386.4" font-size="29.5" text-anchor="start" font-family='"Liberation Serif", serif' textLength="26" lengthAdjust="spacingAndGlyphs" fill="#000">10</text>
<text x="79.6" y="376" font-size="19.5" text-anchor="start" font-family='"Liberation Serif", serif' textLength="22.5" lengthAdjust="spacingAndGlyphs" fill="#000">&#8722;6</text>
<text x="340.1" y="472" font-size="29.5" text-anchor="start" font-family='"Liberation Serif", serif' textLength="26" lengthAdjust="spacingAndGlyphs" fill="#000">10</text>
<text x="368.4" y="461.6" font-size="19.5" text-anchor="start" font-family='"Liberation Serif", serif' textLength="8" lengthAdjust="spacingAndGlyphs" fill="#000">1</text>
<text transform="translate(33,359.1) rotate(-90)" font-family='"Liberation Serif", serif' font-size="32.5" textLength="261.5" lengthAdjust="spacingAndGlyphs">Relative frequency</text>
<text x="327.9" y="510.4" font-family='"Liberation Serif", serif' font-size="31" textLength="122.3" lengthAdjust="spacingAndGlyphs">Degree <tspan font-style="italic">k</tspan></text>
<rect x="122.9" y="232.6" width="184.6" height="195.6" fill="#fff" stroke="#9a9a9a" stroke-width="1.3"/>
<line x1="147.3" y1="238.8" x2="147.3" y2="262.2" stroke="#0072BD" stroke-width="3"/>
<line x1="142.5" y1="238.8" x2="152.1" y2="238.8" stroke="#0072BD" stroke-width="3"/>
<line x1="142.5" y1="262.2" x2="152.1" y2="262.2" stroke="#0072BD" stroke-width="3"/>
<path d="M147.3 245.5L151.1 250.5L147.3 255.5L143.5 250.5Z" fill="#fff" stroke="#0072BD" stroke-width="2.4"/>
<text x="171.8" y="257.5" font-size="26" text-anchor="start" font-family='"Liberation Serif", serif' textLength="84.8" lengthAdjust="spacingAndGlyphs" fill="#000">Healthy</text>
<line x1="147.3" y1="270.3" x2="147.3" y2="293.7" stroke="#D95319" stroke-width="3"/>
<line x1="142.5" y1="270.3" x2="152.1" y2="270.3" stroke="#D95319" stroke-width="3"/>
<line x1="142.5" y1="293.7" x2="152.1" y2="293.7" stroke="#D95319" stroke-width="3"/>
<circle cx="147.3" cy="282" r="3.8" fill="#fff" stroke="#D95319" stroke-width="2.3"/>
<text x="171.8" y="289" font-size="26" text-anchor="start" font-family='"Liberation Serif", serif' textLength="89.3" lengthAdjust="spacingAndGlyphs" fill="#000">U87 full</text>
<line x1="147.3" y1="301.8" x2="147.3" y2="325.2" stroke="#EDB120" stroke-width="3"/>
<line x1="142.5" y1="301.8" x2="152.1" y2="301.8" stroke="#EDB120" stroke-width="3"/>
<line x1="142.5" y1="325.2" x2="152.1" y2="325.2" stroke="#EDB120" stroke-width="3"/>
<path d="M147.3 308.7 L148.48 311.88 L151.87 312.02 L149.2 314.12 L150.12 317.38 L147.3 315.5 L144.48 317.38 L145.4 314.12 L142.73 312.02 L146.12 311.88Z" fill="#EDB120" stroke="#EDB120" stroke-width="1.2" stroke-linejoin="round"/>
<text x="171.8" y="320.5" font-size="26" text-anchor="start" font-family='"Liberation Serif", serif' textLength="99.3" lengthAdjust="spacingAndGlyphs" fill="#000">U87 core</text>
<line x1="147.3" y1="333.3" x2="147.3" y2="356.7" stroke="#7E2F8E" stroke-width="3"/>
<line x1="142.5" y1="333.3" x2="152.1" y2="333.3" stroke="#7E2F8E" stroke-width="3"/>
<line x1="142.5" y1="356.7" x2="152.1" y2="356.7" stroke="#7E2F8E" stroke-width="3"/>
<circle cx="147.3" cy="345" r="3.8" fill="#7E2F8E"/>
<text x="171.8" y="352" font-size="26" text-anchor="start" font-family='"Liberation Serif", serif' textLength="119.5" lengthAdjust="spacingAndGlyphs" fill="#000">GL261 full</text>
<line x1="147.3" y1="364.8" x2="147.3" y2="388.2" stroke="#77AC30" stroke-width="3"/>
<line x1="142.5" y1="364.8" x2="152.1" y2="364.8" stroke="#77AC30" stroke-width="3"/>
<line x1="142.5" y1="388.2" x2="152.1" y2="388.2" stroke="#77AC30" stroke-width="3"/>
<circle cx="147.3" cy="376.5" r="3.8" fill="#fff" stroke="#77AC30" stroke-width="2.3"/>
<text x="171.8" y="383.5" font-size="26" text-anchor="start" font-family='"Liberation Serif", serif' textLength="129.2" lengthAdjust="spacingAndGlyphs" fill="#000">GL261 core</text>
<line x1="128" y1="408" x2="138.1" y2="408" stroke="#000" stroke-width="3"/>
<line x1="147.5" y1="408" x2="158.8" y2="408" stroke="#000" stroke-width="3"/>
<line x1="147.3" y1="396.3" x2="147.3" y2="419.7" stroke="#000" stroke-width="3"/>
<line x1="142.5" y1="396.3" x2="152.1" y2="396.3" stroke="#000" stroke-width="3"/>
<line x1="142.5" y1="419.7" x2="152.1" y2="419.7" stroke="#000" stroke-width="3"/>
<text x="171.8" y="415" font-size="26" text-anchor="start" font-family='"Liberation Serif", serif' textLength="93.1" lengthAdjust="spacingAndGlyphs" fill="#000">Random</text>
<text x="0.2" y="533.8" font-size="28.5" text-anchor="start" font-family='"Liberation Sans", sans-serif' font-weight="bold" class="lab" fill="#000">b)</text>
<line x1="129.76" y1="557" x2="129.76" y2="843.5" stroke="#e6e6e6" stroke-width="1"/>
<line x1="143.4" y1="557" x2="143.4" y2="843.5" stroke="#e6e6e6" stroke-width="1"/>
<line x1="157.04" y1="557" x2="157.04" y2="843.5" stroke="#e6e6e6" stroke-width="1"/>
<line x1="170.68" y1="557" x2="170.68" y2="843.5" stroke="#e6e6e6" stroke-width="1"/>
<line x1="184.32" y1="557" x2="184.32" y2="843.5" stroke="#e6e6e6" stroke-width="1"/>
<line x1="197.96" y1="557" x2="197.96" y2="843.5" stroke="#e6e6e6" stroke-width="1"/>
<line x1="116.1" y1="646.61" x2="211.6" y2="646.61" stroke="#f1f1f1" stroke-width="1"/>
<line x1="116.1" y1="624.03" x2="211.6" y2="624.03" stroke="#f1f1f1" stroke-width="1"/>
<line x1="116.1" y1="608.02" x2="211.6" y2="608.02" stroke="#f1f1f1" stroke-width="1"/>
<line x1="116.1" y1="595.59" x2="211.6" y2="595.59" stroke="#f1f1f1" stroke-width="1"/>
<line x1="116.1" y1="585.44" x2="211.6" y2="585.44" stroke="#f1f1f1" stroke-width="1"/>
<line x1="116.1" y1="576.86" x2="211.6" y2="576.86" stroke="#f1f1f1" stroke-width="1"/>
<line x1="116.1" y1="569.42" x2="211.6" y2="569.42" stroke="#f1f1f1" stroke-width="1"/>
<line x1="116.1" y1="562.87" x2="211.6" y2="562.87" stroke="#f1f1f1" stroke-width="1"/>
<line x1="116.1" y1="685.2" x2="211.6" y2="685.2" stroke="#e6e6e6" stroke-width="1"/>
<line x1="116.1" y1="774.81" x2="211.6" y2="774.81" stroke="#f1f1f1" stroke-width="1"/>
<line x1="116.1" y1="752.23" x2="211.6" y2="752.23" stroke="#f1f1f1" stroke-width="1"/>
<line x1="116.1" y1="736.22" x2="211.6" y2="736.22" stroke="#f1f1f1" stroke-width="1"/>
<line x1="116.1" y1="723.79" x2="211.6" y2="723.79" stroke="#f1f1f1" stroke-width="1"/>
<line x1="116.1" y1="713.64" x2="211.6" y2="713.64" stroke="#f1f1f1" stroke-width="1"/>
<line x1="116.1" y1="705.06" x2="211.6" y2="705.06" stroke="#f1f1f1" stroke-width="1"/>
<line x1="116.1" y1="697.62" x2="211.6" y2="697.62" stroke="#f1f1f1" stroke-width="1"/>
<line x1="116.1" y1="691.07" x2="211.6" y2="691.07" stroke="#f1f1f1" stroke-width="1"/>
<line x1="116.1" y1="813.4" x2="211.6" y2="813.4" stroke="#e6e6e6" stroke-width="1"/>
<line x1="116.1" y1="841.84" x2="211.6" y2="841.84" stroke="#f1f1f1" stroke-width="1"/>
<line x1="116.1" y1="833.26" x2="211.6" y2="833.26" stroke="#f1f1f1" stroke-width="1"/>
<line x1="116.1" y1="825.82" x2="211.6" y2="825.82" stroke="#f1f1f1" stroke-width="1"/>
<line x1="116.1" y1="819.27" x2="211.6" y2="819.27" stroke="#f1f1f1" stroke-width="1"/>
<line x1="116.1" y1="557" x2="120.6" y2="557" stroke="#555555" stroke-width="1"/>
<line x1="211.6" y1="557" x2="207.1" y2="557" stroke="#555555" stroke-width="1"/>
<line x1="116.1" y1="646.61" x2="118.6" y2="646.61" stroke="#555555" stroke-width="1"/>
<line x1="211.6" y1="646.61" x2="209.1" y2="646.61" stroke="#555555" stroke-width="1"/>
<line x1="116.1" y1="624.03" x2="118.6" y2="624.03" stroke="#555555" stroke-width="1"/>
<line x1="211.6" y1="624.03" x2="209.1" y2="624.03" stroke="#555555" stroke-width="1"/>
<line x1="116.1" y1="608.02" x2="118.6" y2="608.02" stroke="#555555" stroke-width="1"/>
<line x1="211.6" y1="608.02" x2="209.1" y2="608.02" stroke="#555555" stroke-width="1"/>
<line x1="116.1" y1="595.59" x2="118.6" y2="595.59" stroke="#555555" stroke-width="1"/>
<line x1="211.6" y1="595.59" x2="209.1" y2="595.59" stroke="#555555" stroke-width="1"/>
<line x1="116.1" y1="585.44" x2="118.6" y2="585.44" stroke="#555555" stroke-width="1"/>
<line x1="211.6" y1="585.44" x2="209.1" y2="585.44" stroke="#555555" stroke-width="1"/>
<line x1="116.1" y1="576.86" x2="118.6" y2="576.86" stroke="#555555" stroke-width="1"/>
<line x1="211.6" y1="576.86" x2="209.1" y2="576.86" stroke="#555555" stroke-width="1"/>
<line x1="116.1" y1="569.42" x2="118.6" y2="569.42" stroke="#555555" stroke-width="1"/>
<line x1="211.6" y1="569.42" x2="209.1" y2="569.42" stroke="#555555" stroke-width="1"/>
<line x1="116.1" y1="562.87" x2="118.6" y2="562.87" stroke="#555555" stroke-width="1"/>
<line x1="211.6" y1="562.87" x2="209.1" y2="562.87" stroke="#555555" stroke-width="1"/>
<line x1="116.1" y1="685.2" x2="120.6" y2="685.2" stroke="#555555" stroke-width="1"/>
<line x1="211.6" y1="685.2" x2="207.1" y2="685.2" stroke="#555555" stroke-width="1"/>
<line x1="116.1" y1="774.81" x2="118.6" y2="774.81" stroke="#555555" stroke-width="1"/>
<line x1="211.6" y1="774.81" x2="209.1" y2="774.81" stroke="#555555" stroke-width="1"/>
<line x1="116.1" y1="752.23" x2="118.6" y2="752.23" stroke="#555555" stroke-width="1"/>
<line x1="211.6" y1="752.23" x2="209.1" y2="752.23" stroke="#555555" stroke-width="1"/>
<line x1="116.1" y1="736.22" x2="118.6" y2="736.22" stroke="#555555" stroke-width="1"/>
<line x1="211.6" y1="736.22" x2="209.1" y2="736.22" stroke="#555555" stroke-width="1"/>
<line x1="116.1" y1="723.79" x2="118.6" y2="723.79" stroke="#555555" stroke-width="1"/>
<line x1="211.6" y1="723.79" x2="209.1" y2="723.79" stroke="#555555" stroke-width="1"/>
<line x1="116.1" y1="713.64" x2="118.6" y2="713.64" stroke="#555555" stroke-width="1"/>
<line x1="211.6" y1="713.64" x2="209.1" y2="713.64" stroke="#555555" stroke-width="1"/>
<line x1="116.1" y1="705.06" x2="118.6" y2="705.06" stroke="#555555" stroke-width="1"/>
<line x1="211.6" y1="705.06" x2="209.1" y2="705.06" stroke="#555555" stroke-width="1"/>
<line x1="116.1" y1="697.62" x2="118.6" y2="697.62" stroke="#555555" stroke-width="1"/>
<line x1="211.6" y1="697.62" x2="209.1" y2="697.62" stroke="#555555" stroke-width="1"/>
<line x1="116.1" y1="691.07" x2="118.6" y2="691.07" stroke="#555555" stroke-width="1"/>
<line x1="211.6" y1="691.07" x2="209.1" y2="691.07" stroke="#555555" stroke-width="1"/>
<line x1="116.1" y1="813.4" x2="120.6" y2="813.4" stroke="#555555" stroke-width="1"/>
<line x1="211.6" y1="813.4" x2="207.1" y2="813.4" stroke="#555555" stroke-width="1"/>
<line x1="116.1" y1="841.84" x2="118.6" y2="841.84" stroke="#555555" stroke-width="1"/>
<line x1="211.6" y1="841.84" x2="209.1" y2="841.84" stroke="#555555" stroke-width="1"/>
<line x1="116.1" y1="833.26" x2="118.6" y2="833.26" stroke="#555555" stroke-width="1"/>
<line x1="211.6" y1="833.26" x2="209.1" y2="833.26" stroke="#555555" stroke-width="1"/>
<line x1="116.1" y1="825.82" x2="118.6" y2="825.82" stroke="#555555" stroke-width="1"/>
<line x1="211.6" y1="825.82" x2="209.1" y2="825.82" stroke="#555555" stroke-width="1"/>
<line x1="116.1" y1="819.27" x2="118.6" y2="819.27" stroke="#555555" stroke-width="1"/>
<line x1="211.6" y1="819.27" x2="209.1" y2="819.27" stroke="#555555" stroke-width="1"/>
<line x1="116.12" y1="843.5" x2="116.12" y2="841" stroke="#555555" stroke-width="1"/>
<line x1="116.12" y1="557" x2="116.12" y2="559.5" stroke="#555555" stroke-width="1"/>
<line x1="129.76" y1="843.5" x2="129.76" y2="841" stroke="#555555" stroke-width="1"/>
<line x1="129.76" y1="557" x2="129.76" y2="559.5" stroke="#555555" stroke-width="1"/>
<line x1="143.4" y1="843.5" x2="143.4" y2="839" stroke="#555555" stroke-width="1"/>
<line x1="143.4" y1="557" x2="143.4" y2="561.5" stroke="#555555" stroke-width="1"/>
<line x1="157.04" y1="843.5" x2="157.04" y2="841" stroke="#555555" stroke-width="1"/>
<line x1="157.04" y1="557" x2="157.04" y2="559.5" stroke="#555555" stroke-width="1"/>
<line x1="170.68" y1="843.5" x2="170.68" y2="841" stroke="#555555" stroke-width="1"/>
<line x1="170.68" y1="557" x2="170.68" y2="559.5" stroke="#555555" stroke-width="1"/>
<line x1="184.32" y1="843.5" x2="184.32" y2="841" stroke="#555555" stroke-width="1"/>
<line x1="184.32" y1="557" x2="184.32" y2="559.5" stroke="#555555" stroke-width="1"/>
<line x1="197.96" y1="843.5" x2="197.96" y2="841" stroke="#555555" stroke-width="1"/>
<line x1="197.96" y1="557" x2="197.96" y2="559.5" stroke="#555555" stroke-width="1"/>
<line x1="211.6" y1="843.5" x2="211.6" y2="839" stroke="#555555" stroke-width="1"/>
<line x1="211.6" y1="557" x2="211.6" y2="561.5" stroke="#555555" stroke-width="1"/>
<rect x="116.1" y="557" width="95.5" height="286.5" fill="none" stroke="#8e8e8e" stroke-width="1.1"/>
<defs><clipPath id="cl"><rect x="115.5" y="556" width="96.1" height="288.1"/></clipPath></defs>
<g clip-path="url(#cl)">
<path d="M116.1 557 L178.5 557 L178.5 570 L177.4 570 L177.4 583 L116.1 583 M116.1 596 L164.2 596 L164.2 609 L197 609 L197 622 L168.6 622 L168.6 635 L180.2 635 L180.2 648 L192 648 L192 661 L177.7 661 L177.7 674 L186 674 L186 687 L175.5 687 L175.5 700 L182 700 L182 713 L165.9 713 L165.9 726 L176 726 L176 739 L168 739 L168 752 L161.3 752 L161.3 765 L158.6 765 L158.6 778 L154.2 778 L154.2 791 L132.9 791 L132.9 804 L123.1 804 L123.1 817 L123.1 817 L123.1 830 L123.1 830 L123.1 843 L116.1 843.5" fill="none" stroke="#0072BD" stroke-width="1.5"/>
<path d="M116.1 557 L180.2 557 L180.2 570 L178.5 570 L178.5 583 L116.1 583 M116.1 596 L164.2 596 L164.2 609 L196.7 609 L196.7 622 L168.6 622 L168.6 635 L180.2 635 L180.2 648 L191.7 648 L191.7 661 L176 661 L176 674 L185 674 L185 687 L172.9 687 L172.9 700 L181 700 L181 713 L162.4 713 L162.4 726 L174 726 L174 739 L167 739 L167 752 L161 752 L161 765 L155.7 765 L155.7 778 L149.4 778 L149.4 791 L139.2 791 L139.2 804 L132.9 804 L132.9 817 L116.1 817 M116.1 830" fill="none" stroke="#D95319" stroke-width="1.5"/>
<path d="M116.1 557 L183.5 557 L183.5 570 L180.2 570 L180.2 583 L116.1 583 M116.1 596 L164.2 596 L164.2 609 L196.7 609 L196.7 622 L167.8 622 L167.8 635 L179.4 635 L179.4 648 L190 648 L190 661 L172.8 661 L172.8 674 L183.5 674 L183.5 687 L167.6 687 L167.6 700 L176 700 L176 713 L160.6 713 L160.6 726 L169.4 726 L169.4 739 L160.5 739 L160.5 752 L153.4 752 L153.4 765 L116.1 765 M116.1 778" fill="none" stroke="#EDB120" stroke-width="1.5"/>
<path d="M116.1 557 L188.4 557 L188.4 570 L186.8 570 L186.8 583 L148.8 583 L148.8 596 L179.4 596 L179.4 609 L198 609 L198 622 L179.7 622 L179.7 635 L184 635 L184 648 L192.5 648 L192.5 661 L178.5 661 L178.5 674 L189.3 674 L189.3 687 L178.1 687 L178.1 700 L184.2 700 L184.2 713 L168 713 L168 726 L178.1 726 L178.1 739 L171.1 739 L171.1 752 L165.2 752 L165.2 765 L157.3 765 L157.3 778 L154.2 778 L154.2 791 L145 791 L145 804 L116.1 804 M116.1 817" fill="none" stroke="#7E2F8E" stroke-width="1.5"/>
<path d="M116.1 557 L191.7 557 L191.7 570 L189.3 570 L189.3 583 L116.1 583 M116.1 596 L181 596 L181 609 L200 609 L200 622 L182.7 622 L182.7 635 L186.8 635 L186.8 648 L193.4 648 L193.4 661 L182.7 661 L182.7 674 L187.6 674 L187.6 687 L177.5 687 L177.5 700 L184.2 700 L184.2 713 L170.2 713 L170.2 726 L175.5 726 L175.5 739 L168.5 739 L168.5 752 L162.8 752 L162.8 765 L154.2 765 L154.2 778 L151.8 778 L151.8 791 L116.1 791 M116.1 804" fill="none" stroke="#77AC30" stroke-width="1.5"/>
</g>
<text x="73.8" y="563.3" font-size="27.5" text-anchor="start" font-family='"Liberation Serif", serif' textLength="24.7" lengthAdjust="spacingAndGlyphs" fill="#000">10</text>
<text x="100.3" y="553.7" font-size="18.5" text-anchor="start" font-family='"Liberation Serif", serif' textLength="7.5" lengthAdjust="spacingAndGlyphs" fill="#000">0</text>
<text x="60.1" y="691.5" font-size="27.5" text-anchor="start" font-family='"Liberation Serif", serif' textLength="24.7" lengthAdjust="spacingAndGlyphs" fill="#000">10</text>
<text x="86.6" y="681.9" font-size="18.5" text-anchor="start" font-family='"Liberation Serif", serif' textLength="21.2" lengthAdjust="spacingAndGlyphs" fill="#000">&#8722;1</text>
<text x="60.1" y="819.7" font-size="27.5" text-anchor="start" font-family='"Liberation Serif", serif' textLength="24.7" lengthAdjust="spacingAndGlyphs" fill="#000">10</text>
<text x="86.6" y="810.1" font-size="18.5" text-anchor="start" font-family='"Liberation Serif", serif' textLength="21.2" lengthAdjust="spacingAndGlyphs" fill="#000">&#8722;2</text>
<text x="122.7" y="875.5" font-size="27.5" text-anchor="start" font-family='"Liberation Serif", serif' textLength="24.7" lengthAdjust="spacingAndGlyphs" fill="#000">10</text>
<text x="149.2" y="865.9" font-size="18.5" text-anchor="start" font-family='"Liberation Serif", serif' textLength="21.2" lengthAdjust="spacingAndGlyphs" fill="#000">&#8722;5</text>
<text x="199.2" y="875.5" font-size="27.5" text-anchor="start" font-family='"Liberation Serif", serif' textLength="24.7" lengthAdjust="spacingAndGlyphs" fill="#000">10</text>
<text x="225.7" y="865.9" font-size="18.5" text-anchor="start" font-family='"Liberation Serif", serif' textLength="7.5" lengthAdjust="spacingAndGlyphs" fill="#000">0</text>
<text x="71" y="909.7" font-size="28" text-anchor="start" font-family='"Liberation Serif", serif' textLength="186.2" lengthAdjust="spacingAndGlyphs" fill="#000">Rel. frequency</text>
<line x1="321.87" y1="558.9" x2="321.87" y2="843.2" stroke="#f1f1f1" stroke-width="1"/>
<line x1="353.56" y1="558.9" x2="353.56" y2="843.2" stroke="#f1f1f1" stroke-width="1"/>
<line x1="379.46" y1="558.9" x2="379.46" y2="843.2" stroke="#f1f1f1" stroke-width="1"/>
<line x1="401.35" y1="558.9" x2="401.35" y2="843.2" stroke="#f1f1f1" stroke-width="1"/>
<line x1="420.31" y1="558.9" x2="420.31" y2="843.2" stroke="#f1f1f1" stroke-width="1"/>
<line x1="437.04" y1="558.9" x2="437.04" y2="843.2" stroke="#f1f1f1" stroke-width="1"/>
<line x1="550.44" y1="558.9" x2="550.44" y2="843.2" stroke="#f1f1f1" stroke-width="1"/>
<line x1="608.02" y1="558.9" x2="608.02" y2="843.2" stroke="#f1f1f1" stroke-width="1"/>
<line x1="648.87" y1="558.9" x2="648.87" y2="843.2" stroke="#f1f1f1" stroke-width="1"/>
<line x1="452" y1="558.9" x2="452" y2="843.2" stroke="#e6e6e6" stroke-width="1"/>
<line x1="281.2" y1="647.95" x2="659.8" y2="647.95" stroke="#f1f1f1" stroke-width="1"/>
<line x1="281.2" y1="625.51" x2="659.8" y2="625.51" stroke="#f1f1f1" stroke-width="1"/>
<line x1="281.2" y1="609.6" x2="659.8" y2="609.6" stroke="#f1f1f1" stroke-width="1"/>
<line x1="281.2" y1="597.25" x2="659.8" y2="597.25" stroke="#f1f1f1" stroke-width="1"/>
<line x1="281.2" y1="587.16" x2="659.8" y2="587.16" stroke="#f1f1f1" stroke-width="1"/>
<line x1="281.2" y1="578.63" x2="659.8" y2="578.63" stroke="#f1f1f1" stroke-width="1"/>
<line x1="281.2" y1="571.25" x2="659.8" y2="571.25" stroke="#f1f1f1" stroke-width="1"/>
<line x1="281.2" y1="564.73" x2="659.8" y2="564.73" stroke="#f1f1f1" stroke-width="1"/>
<line x1="281.2" y1="686.3" x2="659.8" y2="686.3" stroke="#e6e6e6" stroke-width="1"/>
<line x1="281.2" y1="775.35" x2="659.8" y2="775.35" stroke="#f1f1f1" stroke-width="1"/>
<line x1="281.2" y1="752.91" x2="659.8" y2="752.91" stroke="#f1f1f1" stroke-width="1"/>
<line x1="281.2" y1="737" x2="659.8" y2="737" stroke="#f1f1f1" stroke-width="1"/>
<line x1="281.2" y1="724.65" x2="659.8" y2="724.65" stroke="#f1f1f1" stroke-width="1"/>
<line x1="281.2" y1="714.56" x2="659.8" y2="714.56" stroke="#f1f1f1" stroke-width="1"/>
<line x1="281.2" y1="706.03" x2="659.8" y2="706.03" stroke="#f1f1f1" stroke-width="1"/>
<line x1="281.2" y1="698.65" x2="659.8" y2="698.65" stroke="#f1f1f1" stroke-width="1"/>
<line x1="281.2" y1="692.13" x2="659.8" y2="692.13" stroke="#f1f1f1" stroke-width="1"/>
<line x1="281.2" y1="813.7" x2="659.8" y2="813.7" stroke="#e6e6e6" stroke-width="1"/>
<line x1="281.2" y1="841.96" x2="659.8" y2="841.96" stroke="#f1f1f1" stroke-width="1"/>
<line x1="281.2" y1="833.43" x2="659.8" y2="833.43" stroke="#f1f1f1" stroke-width="1"/>
<line x1="281.2" y1="826.05" x2="659.8" y2="826.05" stroke="#f1f1f1" stroke-width="1"/>
<line x1="281.2" y1="819.53" x2="659.8" y2="819.53" stroke="#f1f1f1" stroke-width="1"/>
<defs>
<g id="gall"><path d="M0 -7.8 L5.3 0 L0 7.8 L-5.3 0Z" fill="none" stroke="#2a7fa8" stroke-width="1.4"/><circle r="5.9" fill="none" stroke="#a29a3c" stroke-width="1.25"/><circle r="4.8" fill="none" stroke="#7c4c34" stroke-width="1.45"/><path d="M0 -4.2 L-1.22 -2.11 L-3.64 -2.1 L-2.44 -0 L-3.64 2.1 L-1.22 2.11 L-0 4.2 L1.22 2.11 L3.64 2.1 L2.44 0 L3.64 -2.1 L1.22 -2.11Z" fill="none" stroke="#d9a08a" stroke-width="0.9"/></g>
<path id="gst" d="M0 -6.4 L-1.86 -3.21 L-5.54 -3.2 L-3.71 -0 L-5.54 3.2 L-1.86 3.21 L-0 6.4 L1.86 3.21 L5.54 3.2 L3.71 0 L5.54 -3.2 L1.86 -3.21Z" fill="none" stroke="#7E2F8E" stroke-width="1.2"/>
<circle id="gci" r="6.1" fill="none" stroke="#77AC30" stroke-width="1.3"/>
<path id="gdi" d="M0 -7.8 L5.3 0 L0 7.8 L-5.3 0Z" fill="none" stroke="#0072BD" stroke-width="1.2"/>
<path id="gdiL" d="M0 -8 L6.4 0 L0 8 L-6.4 0Z" fill="none" stroke="#0072BD" stroke-width="1.2"/>
<rect id="gsq" x="-4.8" y="-4.8" width="9.6" height="9.6" fill="none" stroke="#D95319" stroke-width="1.2"/>
<g id="gpg"><path d="M0 -6.4 L-1.86 -3.21 L-5.54 -3.2 L-3.71 -0 L-5.54 3.2 L-1.86 3.21 L-0 6.4 L1.86 3.21 L5.54 3.2 L3.71 0 L5.54 -3.2 L1.86 -3.21Z" fill="none" stroke="#7E2F8E" stroke-width="1.2"/><circle r="6.1" fill="none" stroke="#77AC30" stroke-width="1.3"/></g>
<g id="glow"><path d="M0 -6.4 L-1.86 -3.21 L-5.54 -3.2 L-3.71 -0 L-5.54 3.2 L-1.86 3.21 L-0 6.4 L1.86 3.21 L5.54 3.2 L3.71 0 L5.54 -3.2 L1.86 -3.21Z" fill="none" stroke="#7E2F8E" stroke-width="1.2"/><path d="M0 -7.8 L5.3 0 L0 7.8 L-5.3 0Z" fill="none" stroke="#0072BD" stroke-width="1.2"/><rect x="-4.7" y="-4.7" width="9.4" height="9.4" fill="none" stroke="#D95319" stroke-width="1.1"/></g>
<g id="gmid"><path d="M0 -7.8 L5.3 0 L0 7.8 L-5.3 0Z" fill="none" stroke="#0072BD" stroke-width="1.2"/><path d="M0 -6.4 L-1.86 -3.21 L-5.54 -3.2 L-3.71 -0 L-5.54 3.2 L-1.86 3.21 L-0 6.4 L1.86 3.21 L5.54 3.2 L3.71 0 L5.54 -3.2 L1.86 -3.21Z" fill="none" stroke="#7E2F8E" stroke-width="1.2"/><circle r="6.1" fill="none" stroke="#77AC30" stroke-width="1.3"/></g>
<g id="gm"><path d="M0 -7.8 L5.3 0 L0 7.8 L-5.3 0Z" fill="none" stroke="#0072BD" stroke-width="1.0"/><circle r="6.0" fill="none" stroke="#77AC30" stroke-width="1.35"/><circle r="5.1" fill="none" stroke="#6a4a3a" stroke-opacity="0.45" stroke-width="0.9"/><path d="M0 -5.7 L-1.65 -2.86 L-4.94 -2.85 L-3.31 -0 L-4.94 2.85 L-1.65 2.86 L-0 5.7 L1.65 2.86 L4.94 2.85 L3.31 0 L4.94 -2.85 L1.65 -2.86Z" fill="none" stroke="#7E2F8E" stroke-width="1.45"/></g>
<g id="glt"><path d="M0 -7.8 L5.3 0 L0 7.8 L-5.3 0Z" fill="none" stroke="#0072BD" stroke-width="1.0"/><circle r="6.0" fill="none" stroke="#8f8a3a" stroke-width="1.0"/><rect x="-4.6" y="-4.6" width="9.2" height="9.2" fill="none" stroke="#D95319" stroke-opacity="0.6" stroke-width="0.9"/><path d="M0 -6 L-1.74 -3.01 L-5.2 -3 L-3.48 -0 L-5.2 3 L-1.74 3.01 L-0 6 L1.74 3.01 L5.2 3 L3.48 0 L5.2 -3 L1.74 -3.01Z" fill="none" stroke="#7E2F8E" stroke-width="1.2"/></g>
<g id="gml"><path d="M0 -7.8 L5.3 0 L0 7.8 L-5.3 0Z" fill="none" stroke="#0072BD" stroke-width="1.2"/><rect x="-4.7" y="-4.7" width="9.4" height="9.4" fill="none" stroke="#D95319" stroke-width="1.1"/><path d="M0 -6.2 L-1.8 -3.11 L-5.37 -3.1 L-3.6 -0 L-5.37 3.1 L-1.8 3.11 L-0 6.2 L1.8 3.11 L5.37 3.1 L3.6 0 L5.37 -3.1 L1.8 -3.11Z" fill="none" stroke="#7E2F8E" stroke-width="1.5"/></g>
</defs>
<defs><clipPath id="cr"><rect x="273.2" y="549.9" width="387.2" height="293.8"/></clipPath></defs>
<g clip-path="url(#cr)">
<use href="#gall" x="281.02" y="558.9"/>
<use href="#gall" x="281.02" y="581.3"/>
<use href="#gall" x="281.02" y="619.7"/>
<use href="#gall" x="321.87" y="558.9"/>
<use href="#gall" x="321.87" y="581.3"/>
<use href="#gall" x="321.87" y="597.2"/>
<use href="#gall" x="321.87" y="619.7"/>
<use href="#gall" x="321.87" y="658"/>
<use href="#gall" x="353.56" y="558.9"/>
<use href="#gall" x="353.56" y="581.3"/>
<use href="#gall" x="353.56" y="588"/>
<use href="#gall" x="353.56" y="597.2"/>
<use href="#gall" x="353.56" y="609.6"/>
<use href="#gall" x="353.56" y="619.5"/>
<use href="#gall" x="353.56" y="627.5"/>
<use href="#gall" x="353.56" y="647.9"/>
<use href="#gall" x="353.56" y="656.5"/>
<use href="#gall" x="353.56" y="686.3"/>
<use href="#gall" x="379.46" y="581.33"/>
<use href="#gall" x="379.46" y="587.16"/>
<use href="#gall" x="379.46" y="593.68"/>
<use href="#gall" x="379.46" y="601.07"/>
<use href="#gall" x="379.46" y="609.6"/>
<use href="#gall" x="379.46" y="619.69"/>
<use href="#gm" x="379.46" y="632.03"/>
<use href="#gall" x="379.46" y="639.99"/>
<use href="#gall" x="379.46" y="647.95"/>
<use href="#gall" x="379.46" y="659.17"/>
<use href="#gall" x="379.46" y="670.38"/>
<use href="#gall" x="379.46" y="689.56"/>
<use href="#gall" x="379.46" y="708.73"/>
<use href="#gm" x="401.35" y="581.33"/>
<use href="#gall" x="401.35" y="589.86"/>
<use href="#gall" x="401.35" y="594.68"/>
<use href="#gall" x="401.35" y="599.95"/>
<use href="#gm" x="401.35" y="605.78"/>
<use href="#gm" x="401.35" y="612.3"/>
<use href="#gm" x="401.35" y="619.69"/>
<use href="#gm" x="401.35" y="628.21"/>
<use href="#gm" x="401.35" y="638.3"/>
<use href="#gall" x="401.35" y="650.65"/>
<use href="#gall" x="401.35" y="658.61"/>
<use href="#gall" x="401.35" y="666.57"/>
<use href="#gall" x="401.35" y="677.78"/>
<use href="#gall" x="401.35" y="689"/>
<use href="#gall" x="401.35" y="708.18"/>
<use href="#gall" x="401.35" y="727.35"/>
<use href="#gm" x="420.31" y="597.25"/>
<use href="#gm" x="420.31" y="605.78"/>
<use href="#gm" x="420.31" y="610.59"/>
<use href="#gall" x="420.31" y="615.87"/>
<use href="#gall" x="420.31" y="621.7"/>
<use href="#gm" x="420.31" y="628.21"/>
<use href="#gall" x="420.31" y="635.6"/>
<use href="#gm" x="420.31" y="644.13"/>
<use href="#gall" x="420.31" y="654.22"/>
<use href="#gall" x="420.31" y="666.57"/>
<use href="#gall" x="420.31" y="674.52"/>
<use href="#gall" x="420.31" y="682.48"/>
<use href="#gall" x="420.31" y="693.7"/>
<use href="#gall" x="420.31" y="704.92"/>
<use href="#gall" x="420.31" y="724.09"/>
<use href="#gall" x="420.31" y="743.27"/>
<use href="#gm" x="437.04" y="597.25"/>
<use href="#gm" x="437.04" y="603.77"/>
<use href="#gall" x="437.04" y="611.16"/>
<use href="#gm" x="437.04" y="619.69"/>
<use href="#gm" x="437.04" y="624.5"/>
<use href="#gall" x="437.04" y="629.77"/>
<use href="#gall" x="437.04" y="635.6"/>
<use href="#gm" x="437.04" y="642.12"/>
<use href="#gall" x="437.04" y="649.51"/>
<use href="#gm" x="437.04" y="658.04"/>
<use href="#gall" x="437.04" y="668.12"/>
<use href="#gall" x="437.04" y="680.47"/>
<use href="#gall" x="437.04" y="688.43"/>
<use href="#gall" x="437.04" y="696.39"/>
<use href="#gall" x="437.04" y="707.6"/>
<use href="#gall" x="437.04" y="718.82"/>
<use href="#gall" x="437.04" y="738"/>
<use href="#gall" x="437.04" y="757.17"/>
<use href="#gm" x="452" y="598.49"/>
<use href="#gall" x="452" y="603.77"/>
<use href="#gall" x="452" y="609.6"/>
<use href="#gall" x="452" y="616.11"/>
<use href="#gall" x="452" y="623.5"/>
<use href="#gm" x="452" y="632.03"/>
<use href="#gm" x="452" y="636.85"/>
<use href="#gm" x="452" y="642.12"/>
<use href="#gm" x="452" y="647.95"/>
<use href="#gm" x="452" y="654.47"/>
<use href="#gm" x="452" y="661.85"/>
<use href="#gall" x="452" y="670.38"/>
<use href="#gall" x="452" y="680.47"/>
<use href="#gall" x="452" y="692.82"/>
<use href="#gall" x="452" y="700.78"/>
<use href="#gall" x="452" y="708.73"/>
<use href="#gall" x="452" y="719.95"/>
<use href="#gall" x="452" y="731.17"/>
<use href="#gall" x="452" y="750.34"/>
<use href="#gall" x="452" y="769.52"/>
<use href="#gm" x="465.54" y="629.11"/>
<use href="#gm" x="465.54" y="640.11"/>
<use href="#gm" x="465.54" y="651.46"/>
<use href="#gm" x="465.54" y="660.46"/>
<use href="#gm" x="465.54" y="671.59"/>
<use href="#gm" x="465.54" y="682.44"/>
<use href="#gm" x="465.54" y="692.1"/>
<use href="#gm" x="465.54" y="700.54"/>
<use href="#gm" x="465.54" y="711.58"/>
<use href="#gm" x="465.54" y="720.92"/>
<use href="#glt" x="465.54" y="731.53"/>
<use href="#glt" x="465.54" y="741.59"/>
<use href="#glt" x="465.54" y="753.73"/>
<use href="#glt" x="465.54" y="762.53"/>
<use href="#glt" x="465.54" y="774.04"/>
<use href="#glt" x="465.54" y="781.28"/>
<use href="#gm" x="477.89" y="630.52"/>
<use href="#gm" x="477.89" y="640.18"/>
<use href="#gall" x="477.89" y="650.54"/>
<use href="#gm" x="477.89" y="660.2"/>
<use href="#gm" x="477.89" y="670.77"/>
<use href="#gm" x="477.89" y="680.76"/>
<use href="#gm" x="477.89" y="690.52"/>
<use href="#gm" x="477.89" y="701.23"/>
<use href="#gm" x="477.89" y="712.2"/>
<use href="#gm" x="477.89" y="721.64"/>
<use href="#glt" x="477.89" y="732.83"/>
<use href="#gml" x="477.89" y="743.67"/>
<use href="#glt" x="477.89" y="753.72"/>
<use href="#gml" x="477.89" y="762.27"/>
<use href="#glt" x="477.89" y="772.73"/>
<use href="#glt" x="477.89" y="783.19"/>
<use href="#gml" x="477.89" y="789.86"/>
<use href="#gm" x="489.26" y="629.18"/>
<use href="#gm" x="489.26" y="641.31"/>
<use href="#gall" x="489.26" y="651.26"/>
<use href="#gm" x="489.26" y="661.21"/>
<use href="#gm" x="489.26" y="670.16"/>
<use href="#gm" x="489.26" y="680.46"/>
<use href="#gm" x="489.26" y="691.01"/>
<use href="#gm" x="489.26" y="702.9"/>
<use href="#gm" x="489.26" y="713.04"/>
<use href="#gm" x="489.26" y="722.07"/>
<use href="#glt" x="489.26" y="732.25"/>
<use href="#glt" x="489.26" y="742.43"/>
<use href="#gml" x="489.26" y="751.77"/>
<use href="#gml" x="489.26" y="764"/>
<use href="#glt" x="489.26" y="774.15"/>
<use href="#glt" x="489.26" y="782.53"/>
<use href="#gml" x="489.26" y="792.95"/>
<use href="#glt" x="489.26" y="800.83"/>
<use href="#gm" x="499.78" y="629.25"/>
<use href="#gm" x="499.78" y="640.15"/>
<use href="#gm" x="499.78" y="649.58"/>
<use href="#gm" x="499.78" y="661.04"/>
<use href="#gm" x="499.78" y="671.9"/>
<use href="#gm" x="499.78" y="682.45"/>
<use href="#gm" x="499.78" y="692.6"/>
<use href="#gm" x="499.78" y="700.93"/>
<use href="#gm" x="499.78" y="711.84"/>
<use href="#gm" x="499.78" y="721.68"/>
<use href="#gml" x="499.78" y="731.79"/>
<use href="#glt" x="499.78" y="742.85"/>
<use href="#gml" x="499.78" y="752.33"/>
<use href="#glt" x="499.78" y="762.53"/>
<use href="#glt" x="499.78" y="772.74"/>
<use href="#gml" x="499.78" y="784.19"/>
<use href="#glt" x="499.78" y="793.38"/>
<use href="#gml" x="499.78" y="804.8"/>
<use href="#gall" x="509.58" y="639.64"/>
<use href="#gm" x="509.58" y="649.98"/>
<use href="#gm" x="509.58" y="661.75"/>
<use href="#gm" x="509.58" y="670.09"/>
<use href="#gm" x="509.58" y="681.1"/>
<use href="#gm" x="509.58" y="692.55"/>
<use href="#gm" x="509.58" y="702.75"/>
<use href="#gm" x="509.58" y="712.03"/>
<use href="#gall" x="509.58" y="721.55"/>
<use href="#gml" x="509.58" y="731.57"/>
<use href="#gml" x="509.58" y="742.36"/>
<use href="#gml" x="509.58" y="751.93"/>
<use href="#gml" x="509.58" y="762.13"/>
<use href="#glt" x="509.58" y="772"/>
<use href="#glt" x="509.58" y="784.45"/>
<use href="#glt" x="509.58" y="792.43"/>
<use href="#glt" x="509.58" y="802.77"/>
<use href="#gm" x="518.75" y="640.46"/>
<use href="#gm" x="518.75" y="650.5"/>
<use href="#gm" x="518.75" y="661.29"/>
<use href="#gm" x="518.75" y="670.39"/>
<use href="#gm" x="518.75" y="681"/>
<use href="#gm" x="518.75" y="692.59"/>
<use href="#gm" x="518.75" y="702.58"/>
<use href="#gall" x="518.75" y="712.01"/>
<use href="#gm" x="518.75" y="722.22"/>
<use href="#gml" x="518.75" y="731.81"/>
<use href="#gml" x="518.75" y="742.11"/>
<use href="#glt" x="518.75" y="752.2"/>
<use href="#glt" x="518.75" y="763.66"/>
<use href="#gml" x="518.75" y="772.88"/>
<use href="#glt" x="518.75" y="783.64"/>
<use href="#glt" x="518.75" y="793.42"/>
<use href="#gm" x="527.36" y="650.93"/>
<use href="#gall" x="527.36" y="662"/>
<use href="#gm" x="527.36" y="671.36"/>
<use href="#gm" x="527.36" y="682.24"/>
<use href="#gm" x="527.36" y="690.56"/>
<use href="#gm" x="527.36" y="701.98"/>
<use href="#gm" x="527.36" y="712.21"/>
<use href="#gm" x="527.36" y="721.8"/>
<use href="#glt" x="527.36" y="731.64"/>
<use href="#gml" x="527.36" y="742.45"/>
<use href="#glt" x="527.36" y="752.41"/>
<use href="#glt" x="527.36" y="763.13"/>
<use href="#glt" x="527.36" y="773.68"/>
<use href="#glt" x="527.36" y="783.29"/>
<use href="#glt" x="527.36" y="792.35"/>
<use href="#gm" x="535.47" y="650.68"/>
<use href="#gm" x="535.47" y="660.84"/>
<use href="#gm" x="535.47" y="671.39"/>
<use href="#gm" x="535.47" y="680.8"/>
<use href="#gm" x="535.47" y="692.28"/>
<use href="#gm" x="535.47" y="701.78"/>
<use href="#gm" x="535.47" y="712.94"/>
<use href="#gm" x="535.47" y="721.49"/>
<use href="#glt" x="535.47" y="731.47"/>
<use href="#gst" x="535.47" y="742"/>
<use href="#gml" x="535.47" y="752.74"/>
<use href="#gdi" x="535.47" y="772.58"/>
<use href="#gst" x="535.47" y="793.14"/>
<use href="#gm" x="543.15" y="659.79"/>
<use href="#gm" x="543.15" y="670.99"/>
<use href="#gm" x="543.15" y="682.23"/>
<use href="#gm" x="543.15" y="690.33"/>
<use href="#gm" x="543.15" y="701.53"/>
<use href="#gm" x="543.15" y="712.4"/>
<use href="#gm" x="543.15" y="722.06"/>
<use href="#glt" x="543.15" y="732.03"/>
<use href="#gdi" x="543.15" y="742.94"/>
<use href="#gdi" x="543.15" y="752.62"/>
<use href="#gst" x="543.15" y="763.71"/>
<use href="#gst" x="543.15" y="773.3"/>
<use href="#gm" x="550.44" y="660.85"/>
<use href="#gm" x="550.44" y="681.51"/>
<use href="#gm" x="550.44" y="690.85"/>
<use href="#gall" x="550.44" y="712.43"/>
<use href="#gst" x="550.44" y="742.85"/>
<use href="#gst" x="550.44" y="753.89"/>
<use href="#gm" x="557.37" y="670.04"/>
<use href="#gm" x="557.37" y="691.34"/>
<use href="#gm" x="557.37" y="701.67"/>
<use href="#gm" x="557.37" y="710.83"/>
<use href="#gm" x="557.37" y="722.42"/>
<use href="#glt" x="557.37" y="732.43"/>
<use href="#gst" x="557.37" y="753.5"/>
<use href="#gm" x="563.97" y="671.97"/>
<use href="#gall" x="563.97" y="681.04"/>
<use href="#gm" x="563.97" y="690.56"/>
<use href="#gall" x="563.97" y="701.42"/>
<use href="#gm" x="563.97" y="711.73"/>
<use href="#gm" x="563.97" y="721.1"/>
<use href="#glt" x="563.97" y="731.61"/>
<use href="#gst" x="563.97" y="773.89"/>
<use href="#gst" x="570.29" y="680.19"/>
<use href="#gst" x="570.29" y="742.43"/>
<use href="#gci" x="576.33" y="692.39"/>
<use href="#gm" x="576.33" y="753.75"/>
<use href="#gst" x="576.33" y="762.8"/>
<use href="#gml" x="582.13" y="680.38"/>
<use href="#gm" x="582.13" y="712.42"/>
<use href="#gm" x="582.13" y="752.18"/>
<use href="#gst" x="582.13" y="762.82"/>
<use href="#gm" x="587.7" y="681.71"/>
<use href="#gml" x="587.7" y="691.76"/>
<use href="#gci" x="587.7" y="751.67"/>
<use href="#gst" x="353.56" y="569"/>
<use href="#gpg" x="379.46" y="558.9"/>
<use href="#gst" x="379.46" y="567"/>
<use href="#gst" x="420.31" y="558.5"/>
<use href="#gst" x="420.31" y="581.4"/>
<use href="#gst" x="437.04" y="586.6"/>
<use href="#gst" x="452" y="581.4"/>
<use href="#gst" x="465.54" y="618.9"/>
<use href="#gst" x="477.89" y="618"/>
<use href="#gst" x="489.26" y="624.3"/>
<use href="#gci" x="499.78" y="627"/>
<use href="#gst" x="518.75" y="627"/>
<use href="#gci" x="527.36" y="637.8"/>
<use href="#gst" x="535.47" y="628"/>
<use href="#gci" x="563.97" y="653"/>
<use href="#gpg" x="509.58" y="641.4"/>
<use href="#gsq" x="509.58" y="799.7"/>
<use href="#gsq" x="527.36" y="799"/>
<use href="#gsq" x="509.58" y="814.5"/>
<use href="#gdi" x="576.33" y="823.8"/>
<use href="#gdi" x="563.97" y="842.2"/>
<use href="#gdi" x="550.44" y="779.4"/>
<use href="#gci" x="550.44" y="790.5"/>
<use href="#gst" x="538.2" y="657.3"/>
<use href="#gst" x="545.3" y="658.4"/>
<use href="#gst" x="556.5" y="666.5"/>
<use href="#gst" x="570.8" y="670.6"/>
<use href="#gst" x="588.2" y="678.8"/>
<use href="#gst" x="608.6" y="673.7"/>
<use href="#gst" x="634.1" y="683.9"/>
<use href="#gst" x="570.8" y="693"/>
<use href="#gst" x="579" y="699.2"/>
<use href="#gst" x="562.7" y="699.2"/>
<use href="#gst" x="587.1" y="707.3"/>
<use href="#gst" x="599.4" y="701.2"/>
<use href="#gst" x="617.8" y="707.3"/>
<use href="#gst" x="625.9" y="713.5"/>
<use href="#gst" x="607.6" y="717.6"/>
<use href="#gst" x="597.3" y="725.7"/>
<use href="#gst" x="615.7" y="725.7"/>
<use href="#gst" x="633" y="731.8"/>
<use href="#gst" x="622.9" y="740"/>
<use href="#gst" x="591.2" y="735.9"/>
<use href="#gst" x="603.5" y="735.9"/>
<use href="#gst" x="583.1" y="729.8"/>
<use href="#gst" x="570.8" y="721.6"/>
<use href="#gst" x="563.7" y="729.8"/>
<use href="#gst" x="577" y="742"/>
<use href="#gst" x="613.7" y="752.2"/>
<use href="#gst" x="659.6" y="727.8"/>
<use href="#gst" x="582" y="796.1"/>
<use href="#gst" x="562.7" y="762.4"/>
<use href="#gst" x="587.1" y="764.5"/>
<use href="#gst" x="554.5" y="766.5"/>
<use href="#gst" x="542.2" y="772.7"/>
<use href="#gst" x="576" y="712"/>
<use href="#gst" x="594" y="716"/>
<use href="#gst" x="610" y="742"/>
<use href="#gst" x="628" y="722"/>
<use href="#gst" x="640" y="745"/>
<use href="#gst" x="600" y="690"/>
<use href="#gst" x="585" y="690"/>
<use href="#gst" x="575" y="760"/>
<use href="#gst" x="568" y="748"/>
<use href="#gst" x="596" y="748"/>
<use href="#gst" x="612" y="730"/>
<use href="#gst" x="644" y="712"/>
<use href="#gst" x="650" y="735"/>
<use href="#gst" x="638" y="700"/>
<use href="#gst" x="620" y="695"/>
<use href="#gst" x="605" y="710"/>
<use href="#gst" x="630" y="750"/>
<use href="#gst" x="618" y="760"/>
<use href="#gst" x="645" y="725"/>
<use href="#gst" x="590" y="722"/>
<use href="#gst" x="580" y="748"/>
<use href="#gst" x="560" y="740"/>
<use href="#gst" x="552" y="735"/>
<use href="#gci" x="564.7" y="653.3"/>
<use href="#gci" x="569.8" y="681.8"/>
<use href="#gci" x="593.3" y="703.3"/>
<use href="#gci" x="582" y="709.4"/>
<use href="#gci" x="577" y="731.8"/>
<use href="#gci" x="550.4" y="710.4"/>
<use href="#gci" x="557.6" y="718.6"/>
<use href="#gci" x="550.4" y="791"/>
<use href="#gci" x="598" y="712"/>
<use href="#gdiL" x="560.6" y="744"/>
<use href="#gdiL" x="589.2" y="754.3"/>
<use href="#gdiL" x="550.4" y="778.8"/>
<use href="#gdiL" x="575" y="738"/>
<use href="#gdiL" x="568" y="760"/>
</g>
<defs><clipPath id="cr2"><rect x="281.2" y="558.9" width="378.6" height="284.3"/></clipPath></defs>
<g clip-path="url(#cr2)">
<line x1="281.2" y1="619.7" x2="525.3" y2="843.2" stroke="#0072BD" stroke-width="3.6"/>
<line x1="281.2" y1="619.7" x2="525.3" y2="843.2" stroke="#D95319" stroke-width="3.7" stroke-dasharray="11 4"/>
<line x1="281.2" y1="613.4" x2="659.8" y2="814.7" stroke="#7E2F8E" stroke-width="3.8" stroke-dasharray="13.5 4 7.5 4"/>
<line x1="281.2" y1="609.2" x2="659.8" y2="794.3" stroke="#77AC30" stroke-width="3.7" stroke-dasharray="3.6 3.75"/>
<line x1="281.2" y1="656" x2="659.8" y2="788.1" stroke="#EDB120" stroke-width="3.6" stroke-dasharray="3.6 3.6"/>
</g>
<line x1="281.2" y1="558.9" x2="286.2" y2="558.9" stroke="#555555" stroke-width="1"/>
<line x1="659.8" y1="558.9" x2="654.8" y2="558.9" stroke="#555555" stroke-width="1"/>
<line x1="281.2" y1="647.95" x2="284.2" y2="647.95" stroke="#555555" stroke-width="1"/>
<line x1="659.8" y1="647.95" x2="656.8" y2="647.95" stroke="#555555" stroke-width="1"/>
<line x1="281.2" y1="625.51" x2="284.2" y2="625.51" stroke="#555555" stroke-width="1"/>
<line x1="659.8" y1="625.51" x2="656.8" y2="625.51" stroke="#555555" stroke-width="1"/>
<line x1="281.2" y1="609.6" x2="284.2" y2="609.6" stroke="#555555" stroke-width="1"/>
<line x1="659.8" y1="609.6" x2="656.8" y2="609.6" stroke="#555555" stroke-width="1"/>
<line x1="281.2" y1="597.25" x2="284.2" y2="597.25" stroke="#555555" stroke-width="1"/>
<line x1="659.8" y1="597.25" x2="656.8" y2="597.25" stroke="#555555" stroke-width="1"/>
<line x1="281.2" y1="587.16" x2="284.2" y2="587.16" stroke="#555555" stroke-width="1"/>
<line x1="659.8" y1="587.16" x2="656.8" y2="587.16" stroke="#555555" stroke-width="1"/>
<line x1="281.2" y1="578.63" x2="284.2" y2="578.63" stroke="#555555" stroke-width="1"/>
<line x1="659.8" y1="578.63" x2="656.8" y2="578.63" stroke="#555555" stroke-width="1"/>
<line x1="281.2" y1="571.25" x2="284.2" y2="571.25" stroke="#555555" stroke-width="1"/>
<line x1="659.8" y1="571.25" x2="656.8" y2="571.25" stroke="#555555" stroke-width="1"/>
<line x1="281.2" y1="564.73" x2="284.2" y2="564.73" stroke="#555555" stroke-width="1"/>
<line x1="659.8" y1="564.73" x2="656.8" y2="564.73" stroke="#555555" stroke-width="1"/>
<line x1="281.2" y1="686.3" x2="286.2" y2="686.3" stroke="#555555" stroke-width="1"/>
<line x1="659.8" y1="686.3" x2="654.8" y2="686.3" stroke="#555555" stroke-width="1"/>
<line x1="281.2" y1="775.35" x2="284.2" y2="775.35" stroke="#555555" stroke-width="1"/>
<line x1="659.8" y1="775.35" x2="656.8" y2="775.35" stroke="#555555" stroke-width="1"/>
<line x1="281.2" y1="752.91" x2="284.2" y2="752.91" stroke="#555555" stroke-width="1"/>
<line x1="659.8" y1="752.91" x2="656.8" y2="752.91" stroke="#555555" stroke-width="1"/>
<line x1="281.2" y1="737" x2="284.2" y2="737" stroke="#555555" stroke-width="1"/>
<line x1="659.8" y1="737" x2="656.8" y2="737" stroke="#555555" stroke-width="1"/>
<line x1="281.2" y1="724.65" x2="284.2" y2="724.65" stroke="#555555" stroke-width="1"/>
<line x1="659.8" y1="724.65" x2="656.8" y2="724.65" stroke="#555555" stroke-width="1"/>
<line x1="281.2" y1="714.56" x2="284.2" y2="714.56" stroke="#555555" stroke-width="1"/>
<line x1="659.8" y1="714.56" x2="656.8" y2="714.56" stroke="#555555" stroke-width="1"/>
<line x1="281.2" y1="706.03" x2="284.2" y2="706.03" stroke="#555555" stroke-width="1"/>
<line x1="659.8" y1="706.03" x2="656.8" y2="706.03" stroke="#555555" stroke-width="1"/>
<line x1="281.2" y1="698.65" x2="284.2" y2="698.65" stroke="#555555" stroke-width="1"/>
<line x1="659.8" y1="698.65" x2="656.8" y2="698.65" stroke="#555555" stroke-width="1"/>
<line x1="281.2" y1="692.13" x2="284.2" y2="692.13" stroke="#555555" stroke-width="1"/>
<line x1="659.8" y1="692.13" x2="656.8" y2="692.13" stroke="#555555" stroke-width="1"/>
<line x1="281.2" y1="813.7" x2="286.2" y2="813.7" stroke="#555555" stroke-width="1"/>
<line x1="659.8" y1="813.7" x2="654.8" y2="813.7" stroke="#555555" stroke-width="1"/>
<line x1="281.2" y1="841.96" x2="284.2" y2="841.96" stroke="#555555" stroke-width="1"/>
<line x1="659.8" y1="841.96" x2="656.8" y2="841.96" stroke="#555555" stroke-width="1"/>
<line x1="281.2" y1="833.43" x2="284.2" y2="833.43" stroke="#555555" stroke-width="1"/>
<line x1="659.8" y1="833.43" x2="656.8" y2="833.43" stroke="#555555" stroke-width="1"/>
<line x1="281.2" y1="826.05" x2="284.2" y2="826.05" stroke="#555555" stroke-width="1"/>
<line x1="659.8" y1="826.05" x2="656.8" y2="826.05" stroke="#555555" stroke-width="1"/>
<line x1="281.2" y1="819.53" x2="284.2" y2="819.53" stroke="#555555" stroke-width="1"/>
<line x1="659.8" y1="819.53" x2="656.8" y2="819.53" stroke="#555555" stroke-width="1"/>
<line x1="321.87" y1="843.2" x2="321.87" y2="840.2" stroke="#555555" stroke-width="1"/>
<line x1="321.87" y1="558.9" x2="321.87" y2="561.9" stroke="#555555" stroke-width="1"/>
<line x1="353.56" y1="843.2" x2="353.56" y2="840.2" stroke="#555555" stroke-width="1"/>
<line x1="353.56" y1="558.9" x2="353.56" y2="561.9" stroke="#555555" stroke-width="1"/>
<line x1="379.46" y1="843.2" x2="379.46" y2="840.2" stroke="#555555" stroke-width="1"/>
<line x1="379.46" y1="558.9" x2="379.46" y2="561.9" stroke="#555555" stroke-width="1"/>
<line x1="401.35" y1="843.2" x2="401.35" y2="840.2" stroke="#555555" stroke-width="1"/>
<line x1="401.35" y1="558.9" x2="401.35" y2="561.9" stroke="#555555" stroke-width="1"/>
<line x1="420.31" y1="843.2" x2="420.31" y2="840.2" stroke="#555555" stroke-width="1"/>
<line x1="420.31" y1="558.9" x2="420.31" y2="561.9" stroke="#555555" stroke-width="1"/>
<line x1="437.04" y1="843.2" x2="437.04" y2="840.2" stroke="#555555" stroke-width="1"/>
<line x1="437.04" y1="558.9" x2="437.04" y2="561.9" stroke="#555555" stroke-width="1"/>
<line x1="452" y1="843.2" x2="452" y2="838.2" stroke="#555555" stroke-width="1"/>
<line x1="452" y1="558.9" x2="452" y2="563.9" stroke="#555555" stroke-width="1"/>
<line x1="550.44" y1="843.2" x2="550.44" y2="840.2" stroke="#555555" stroke-width="1"/>
<line x1="550.44" y1="558.9" x2="550.44" y2="561.9" stroke="#555555" stroke-width="1"/>
<line x1="608.02" y1="843.2" x2="608.02" y2="840.2" stroke="#555555" stroke-width="1"/>
<line x1="608.02" y1="558.9" x2="608.02" y2="561.9" stroke="#555555" stroke-width="1"/>
<line x1="648.87" y1="843.2" x2="648.87" y2="840.2" stroke="#555555" stroke-width="1"/>
<line x1="648.87" y1="558.9" x2="648.87" y2="561.9" stroke="#555555" stroke-width="1"/>
<rect x="281.2" y="558.9" width="378.6" height="284.3" fill="none" stroke="#7a7a7a" stroke-width="1.2"/>
<text x="237.2" y="565.5" font-size="27.5" text-anchor="start" font-family='"Liberation Serif", serif' textLength="24.7" lengthAdjust="spacingAndGlyphs" fill="#000">10</text>
<text x="263.7" y="555.7" font-size="18.5" text-anchor="start" font-family='"Liberation Serif", serif' textLength="7.8" lengthAdjust="spacingAndGlyphs" fill="#000">0</text>
<text x="222.7" y="692.9" font-size="27.5" text-anchor="start" font-family='"Liberation Serif", serif' textLength="24.7" lengthAdjust="spacingAndGlyphs" fill="#000">10</text>
<text x="249.2" y="683.1" font-size="18.5" text-anchor="start" font-family='"Liberation Serif", serif' textLength="21.5" lengthAdjust="spacingAndGlyphs" fill="#000">&#8722;1</text>
<text x="223.7" y="820.3" font-size="27.5" text-anchor="start" font-family='"Liberation Serif", serif' textLength="24.7" lengthAdjust="spacingAndGlyphs" fill="#000">10</text>
<text x="250.2" y="810.5" font-size="18.5" text-anchor="start" font-family='"Liberation Serif", serif' textLength="21.5" lengthAdjust="spacingAndGlyphs" fill="#000">&#8722;2</text>
<text x="435.5" y="874.3" font-size="27.5" text-anchor="start" font-family='"Liberation Serif", serif' textLength="24.7" lengthAdjust="spacingAndGlyphs" fill="#000">10</text>
<text x="462" y="863.9" font-size="18.5" text-anchor="start" font-family='"Liberation Serif", serif' textLength="6.3" lengthAdjust="spacingAndGlyphs" fill="#000">1</text>
<text x="373.6" y="909.8" font-family='"Liberation Serif", serif' font-size="29" textLength="159" lengthAdjust="spacingAndGlyphs">Node degree</text>
<text x="543" y="909.8" font-size="29" text-anchor="start" font-family='"Liberation Serif", serif' font-style="italic" fill="#000">k</text>
<text x="557.6" y="914.3" font-size="20" text-anchor="start" font-family='"Liberation Serif", serif' font-style="italic" fill="#000">i</text>
<text transform="translate(42.5,891.2) rotate(-90)" font-family='"Liberation Serif", serif' font-size="33" textLength="296.7" lengthAdjust="spacingAndGlyphs">Clustering coefficient</text>
<text transform="translate(42.5,583.5) rotate(-90)" font-family='"Liberation Serif", serif' font-size="33" font-style="italic">C</text>
<text transform="translate(47.3,561.5) rotate(-90)" font-family='"Liberation Serif", serif' font-size="22" font-style="italic">i</text>
</svg></body></html>
